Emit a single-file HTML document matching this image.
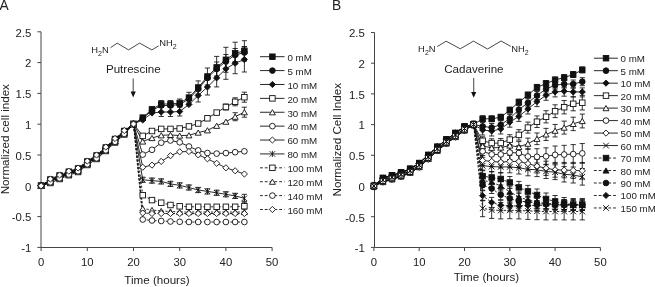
<!DOCTYPE html><html><head><meta charset="utf-8"><style>
html,body{margin:0;padding:0;background:#fff;width:655px;height:287px;overflow:hidden}
svg{display:block} #w{width:655px;height:287px;filter:grayscale(1)} text{font-family:"Liberation Sans", sans-serif;fill:#222}
</style></head><body>
<div id="w">
<svg width="655" height="287" viewBox="0 0 655 287">
<rect width="655" height="287" fill="#fff"/>
<text x="-0.4" y="9.6" font-size="13.8" text-anchor="start" >A</text>
<text x="332.0" y="9.7" font-size="13.8" text-anchor="start" >B</text>
<path d="M41,31.80L41,247.5M41,247.5L272.10,247.5" fill="none" stroke="#444" stroke-width="1"/>
<path d="M37.4,31.80L41,31.80" stroke="#444" stroke-width="1"/>
<text x="31.4" y="36.6" font-size="11.4" text-anchor="end" >2.5</text>
<path d="M37.4,62.60L41,62.60" stroke="#444" stroke-width="1"/>
<text x="31.4" y="67.4" font-size="11.4" text-anchor="end" >2</text>
<path d="M37.4,93.40L41,93.40" stroke="#444" stroke-width="1"/>
<text x="31.4" y="98.2" font-size="11.4" text-anchor="end" >1.5</text>
<path d="M37.4,124.20L41,124.20" stroke="#444" stroke-width="1"/>
<text x="31.4" y="129.0" font-size="11.4" text-anchor="end" >1</text>
<path d="M37.4,155.00L41,155.00" stroke="#444" stroke-width="1"/>
<text x="31.4" y="159.8" font-size="11.4" text-anchor="end" >0.5</text>
<path d="M37.4,185.80L41,185.80" stroke="#444" stroke-width="1"/>
<text x="31.4" y="190.6" font-size="11.4" text-anchor="end" >0</text>
<path d="M37.4,216.60L41,216.60" stroke="#444" stroke-width="1"/>
<text x="31.4" y="221.4" font-size="11.4" text-anchor="end" >-0.5</text>
<path d="M37.4,247.40L41,247.40" stroke="#444" stroke-width="1"/>
<text x="31.4" y="252.2" font-size="11.4" text-anchor="end" >-1</text>
<path d="M41.10,247.5L41.10,251" stroke="#444" stroke-width="1"/>
<text x="41.1" y="265.6" font-size="11.3" text-anchor="middle" >0</text>
<path d="M87.30,247.5L87.30,251" stroke="#444" stroke-width="1"/>
<text x="87.3" y="265.6" font-size="11.3" text-anchor="middle" >10</text>
<path d="M133.50,247.5L133.50,251" stroke="#444" stroke-width="1"/>
<text x="133.5" y="265.6" font-size="11.3" text-anchor="middle" >20</text>
<path d="M179.70,247.5L179.70,251" stroke="#444" stroke-width="1"/>
<text x="179.7" y="265.6" font-size="11.3" text-anchor="middle" >30</text>
<path d="M225.90,247.5L225.90,251" stroke="#444" stroke-width="1"/>
<text x="225.9" y="265.6" font-size="11.3" text-anchor="middle" >40</text>
<path d="M272.10,247.5L272.10,251" stroke="#444" stroke-width="1"/>
<text x="272.1" y="265.6" font-size="11.3" text-anchor="middle" >50</text>
<text x="157" y="284.3" font-size="11.6" text-anchor="middle" >Time (hours)</text>
<text font-size="11.6" text-anchor="middle" transform="translate(9,139.2) rotate(-90)">Normalized cell index</text>
<path d="M374.5,32.50L374.5,247.5M374.5,247.5L600.40,247.5" fill="none" stroke="#444" stroke-width="1"/>
<path d="M371,32.50L374.5,32.50" stroke="#444" stroke-width="1"/>
<text x="364.8" y="37.3" font-size="11.4" text-anchor="end" >2.5</text>
<path d="M371,63.20L374.5,63.20" stroke="#444" stroke-width="1"/>
<text x="364.8" y="68.0" font-size="11.4" text-anchor="end" >2</text>
<path d="M371,93.90L374.5,93.90" stroke="#444" stroke-width="1"/>
<text x="364.8" y="98.7" font-size="11.4" text-anchor="end" >1.5</text>
<path d="M371,124.60L374.5,124.60" stroke="#444" stroke-width="1"/>
<text x="364.8" y="129.4" font-size="11.4" text-anchor="end" >1</text>
<path d="M371,155.30L374.5,155.30" stroke="#444" stroke-width="1"/>
<text x="364.8" y="160.1" font-size="11.4" text-anchor="end" >0.5</text>
<path d="M371,186.00L374.5,186.00" stroke="#444" stroke-width="1"/>
<text x="364.8" y="190.8" font-size="11.4" text-anchor="end" >0</text>
<path d="M371,216.70L374.5,216.70" stroke="#444" stroke-width="1"/>
<text x="364.8" y="221.5" font-size="11.4" text-anchor="end" >-0.5</text>
<path d="M371,247.40L374.5,247.40" stroke="#444" stroke-width="1"/>
<text x="364.8" y="252.2" font-size="11.4" text-anchor="end" >-1</text>
<path d="M373.90,247.5L373.90,251" stroke="#444" stroke-width="1"/>
<text x="373.9" y="265.6" font-size="11.3" text-anchor="middle" >0</text>
<path d="M419.20,247.5L419.20,251" stroke="#444" stroke-width="1"/>
<text x="419.2" y="265.6" font-size="11.3" text-anchor="middle" >10</text>
<path d="M464.50,247.5L464.50,251" stroke="#444" stroke-width="1"/>
<text x="464.5" y="265.6" font-size="11.3" text-anchor="middle" >20</text>
<path d="M509.80,247.5L509.80,251" stroke="#444" stroke-width="1"/>
<text x="509.8" y="265.6" font-size="11.3" text-anchor="middle" >30</text>
<path d="M555.10,247.5L555.10,251" stroke="#444" stroke-width="1"/>
<text x="555.1" y="265.6" font-size="11.3" text-anchor="middle" >40</text>
<path d="M600.40,247.5L600.40,251" stroke="#444" stroke-width="1"/>
<text x="600.4" y="265.6" font-size="11.3" text-anchor="middle" >50</text>
<text x="486.5" y="281.3" font-size="11.6" text-anchor="middle" >Time (hours)</text>
<text font-size="11.6" text-anchor="middle" transform="translate(340.6,139.7) rotate(-90)">Normalized Cell Index</text>
<text x="91.3" y="53.3" font-size="9.4">H<tspan font-size="7" dy="2.3">2</tspan><tspan dy="-2.3">N</tspan></text>
<path d="M110.5,47.7L117.2,43.1L128.5,49.9L139.6,43.1L151.8,49.9L158.6,45.9" fill="none" stroke="#333" stroke-width="0.9"/>
<text x="159.3" y="46.4" font-size="9.4">NH<tspan font-size="7" dy="2.3">2</tspan></text>
<text x="418.1" y="52.4" font-size="9.4">H<tspan font-size="7" dy="2.3">2</tspan><tspan dy="-2.3">N</tspan></text>
<path d="M437.2,46.6L446.1,41.2L460.3,48.8L473.5,41.1L487.5,49L501.1,41L510.8,46.4" fill="none" stroke="#333" stroke-width="0.9"/>
<text x="511.2" y="52.4" font-size="9.4">NH<tspan font-size="7" dy="2.3">2</tspan></text>
<text x="133.3" y="72.7" font-size="11.6" text-anchor="middle" >Putrescine</text>
<text x="473.9" y="72.7" font-size="11.6" text-anchor="middle" >Cadaverine</text>
<path d="M133.2,78.4L133.2,92.4" stroke="#555" stroke-width="1.1"/><path d="M130.6,91.60000000000001L135.79999999999998,91.60000000000001L133.2,97.4Z" fill="#111"/>
<path d="M473.7,78.1L473.7,92.7" stroke="#555" stroke-width="1.1"/><path d="M471.09999999999997,91.9L476.3,91.9L473.7,97.7Z" fill="#111"/>
<path d="M41.10,185.80L50.34,179.50L59.58,175.50L68.82,171.70L78.06,168.50L87.30,161.50L96.54,155.50L105.78,147.50L115.02,139.00L124.26,131.00L133.50,124.00L142.74,117.60L151.98,109.30L161.22,104.00L170.46,104.00L179.70,103.00L188.94,97.60L198.18,87.50L207.42,76.50L216.66,67.40L225.90,59.80L235.14,53.20L244.38,50.90" fill="none" stroke="#111" stroke-width="0.9"/>
<path d="M41.10,185.80L50.34,180.00L59.58,176.00L68.82,172.20L78.06,169.00L87.30,162.00L96.54,156.00L105.78,148.00L115.02,139.50L124.26,131.50L133.50,124.00L142.74,118.50L151.98,110.50L161.22,105.50L170.46,105.50L179.70,104.50L188.94,99.00L198.18,89.00L207.42,78.00L216.66,69.00L225.90,61.50L235.14,55.00L244.38,52.50" fill="none" stroke="#111" stroke-width="0.9"/>
<path d="M41.10,185.80L50.34,180.50L59.58,176.50L68.82,172.70L78.06,169.50L87.30,162.50L96.54,156.50L105.78,148.50L115.02,140.00L124.26,132.00L133.50,124.00L142.74,120.00L151.98,113.00L161.22,112.00L170.46,112.00L179.70,111.50L188.94,104.50L198.18,95.50L207.42,87.00L216.66,77.90L225.90,68.80L235.14,63.20L244.38,59.50" fill="none" stroke="#111" stroke-width="0.9"/>
<path d="M41.10,185.80L50.34,183.00L59.58,179.00L68.82,175.20L78.06,172.00L87.30,165.00L96.54,159.00L105.78,151.00L115.02,142.50L124.26,134.50L133.50,124.00L142.74,135.90L151.98,131.00L161.22,128.90L170.46,128.90L179.70,128.50L188.94,126.40L198.18,123.50L207.42,118.30L216.66,112.60L225.90,107.00L235.14,101.80L244.38,97.20" fill="none" stroke="#111" stroke-width="0.9"/>
<path d="M41.10,185.80L50.34,181.50L59.58,177.50L68.82,173.70L78.06,170.50L87.30,163.50L96.54,157.50L105.78,149.50L115.02,141.00L124.26,133.00L133.50,124.00L142.74,141.50L151.98,138.00L161.22,135.30L170.46,134.90L179.70,135.60L188.94,135.30L198.18,132.60L207.42,130.30L216.66,125.80L225.90,121.70L235.14,116.70L244.38,112.20" fill="none" stroke="#111" stroke-width="0.9"/>
<path d="M41.10,185.80L50.34,181.00L59.58,177.00L68.82,173.20L78.06,170.00L87.30,163.00L96.54,157.00L105.78,149.00L115.02,140.50L124.26,132.50L133.50,124.00L142.74,154.60L151.98,149.80L161.22,142.70L170.46,140.50L179.70,142.30L188.94,146.50L198.18,150.40L207.42,153.00L216.66,153.60L225.90,153.10L235.14,152.20L244.38,151.30" fill="none" stroke="#111" stroke-width="0.9"/>
<path d="M41.10,185.80L50.34,180.50L59.58,176.50L68.82,172.70L78.06,169.50L87.30,162.50L96.54,156.50L105.78,148.50L115.02,140.00L124.26,132.00L133.50,124.00L142.74,167.20L151.98,165.10L161.22,161.40L170.46,155.70L179.70,151.80L188.94,151.50L198.18,154.90L207.42,158.80L216.66,163.30L225.90,167.80L235.14,170.80L244.38,174.00" fill="none" stroke="#111" stroke-width="0.9"/>
<path d="M41.10,185.80L50.34,181.00L59.58,177.00L68.82,173.20L78.06,170.00L87.30,163.00L96.54,157.00L105.78,149.00L115.02,140.50L124.26,132.50L133.50,124.00L142.74,179.80L151.98,180.60L161.22,181.40L170.46,183.90L179.70,185.40L188.94,187.50L198.18,190.00L207.42,191.40L216.66,192.80L225.90,194.30L235.14,195.90L244.38,198.30" fill="none" stroke="#111" stroke-width="0.9"/>
<path d="M41.10,185.80L50.34,182.00L59.58,178.00L68.82,174.20L78.06,171.00L87.30,164.00L96.54,158.00L105.78,150.00L115.02,141.50L124.26,133.50L133.50,124.00L142.74,195.20L151.98,200.10L161.22,202.70L170.46,205.00L179.70,206.30L188.94,206.80L198.18,206.80L207.42,206.80L216.66,206.80L225.90,206.80L235.14,206.80L244.38,206.20" fill="none" stroke="#111" stroke-width="0.9" stroke-dasharray="2.2,1.6"/>
<path d="M41.10,185.80L50.34,181.50L59.58,177.50L68.82,173.70L78.06,170.50L87.30,163.50L96.54,157.50L105.78,149.50L115.02,141.00L124.26,133.00L133.50,124.00L142.74,208.50L151.98,210.00L161.22,211.00L170.46,211.50L179.70,212.00L188.94,212.00L198.18,212.00L207.42,212.00L216.66,212.00L225.90,212.00L235.14,212.00L244.38,212.00" fill="none" stroke="#111" stroke-width="0.9" stroke-dasharray="2.2,1.6"/>
<path d="M41.10,185.80L50.34,182.30L59.58,178.30L68.82,174.50L78.06,171.30L87.30,164.30L96.54,158.30L105.78,150.30L115.02,141.80L124.26,133.80L133.50,124.00L142.74,219.50L151.98,220.50L161.22,221.00L170.46,221.50L179.70,221.80L188.94,222.00L198.18,222.00L207.42,222.00L216.66,222.00L225.90,222.00L235.14,222.00L244.38,222.00" fill="none" stroke="#111" stroke-width="0.9" stroke-dasharray="2.2,1.6"/>
<path d="M41.10,185.80L50.34,179.00L59.58,175.00L68.82,171.20L78.06,168.00L87.30,161.00L96.54,155.00L105.78,147.00L115.02,138.50L124.26,130.50L133.50,124.00L142.74,213.00L151.98,213.50L161.22,213.50L170.46,213.50L179.70,213.50L188.94,213.50L198.18,213.50L207.42,213.50L216.66,213.50L225.90,213.50L235.14,213.50L244.38,213.50" fill="none" stroke="#111" stroke-width="0.9" stroke-dasharray="2.2,1.6"/>
<path d="M161.22,100.50L161.22,107.50M158.62,100.50L163.82,100.50M158.62,107.50L163.82,107.50" fill="none" stroke="#111" stroke-width="0.85"/>
<path d="M170.46,100.50L170.46,107.50M167.86,100.50L173.06,100.50M167.86,107.50L173.06,107.50" fill="none" stroke="#111" stroke-width="0.85"/>
<path d="M179.70,99.00L179.70,107.00M177.10,99.00L182.30,99.00M177.10,107.00L182.30,107.00" fill="none" stroke="#111" stroke-width="0.85"/>
<path d="M188.94,92.30L188.94,102.90M186.34,92.30L191.54,92.30M186.34,102.90L191.54,102.90" fill="none" stroke="#111" stroke-width="0.85"/>
<path d="M198.18,80.90L198.18,94.10M195.58,80.90L200.78,80.90M195.58,94.10L200.78,94.10" fill="none" stroke="#111" stroke-width="0.85"/>
<path d="M207.42,68.00L207.42,85.00M204.82,68.00L210.02,68.00M204.82,85.00L210.02,85.00" fill="none" stroke="#111" stroke-width="0.85"/>
<path d="M216.66,56.40L216.66,78.40M214.06,56.40L219.26,56.40M214.06,78.40L219.26,78.40" fill="none" stroke="#111" stroke-width="0.85"/>
<path d="M225.90,47.30L225.90,72.30M223.30,47.30L228.50,47.30M223.30,72.30L228.50,72.30" fill="none" stroke="#111" stroke-width="0.85"/>
<path d="M235.14,42.20L235.14,64.20M232.54,42.20L237.74,42.20M232.54,64.20L237.74,64.20" fill="none" stroke="#111" stroke-width="0.85"/>
<path d="M244.38,40.70L244.38,61.10M241.78,40.70L246.98,40.70M241.78,61.10L246.98,61.10" fill="none" stroke="#111" stroke-width="0.85"/>
<path d="M216.66,62.00L216.66,76.00M214.06,62.00L219.26,62.00M214.06,76.00L219.26,76.00" fill="none" stroke="#111" stroke-width="0.85"/>
<path d="M225.90,54.50L225.90,68.50M223.30,54.50L228.50,54.50M223.30,68.50L228.50,68.50" fill="none" stroke="#111" stroke-width="0.85"/>
<path d="M235.14,48.50L235.14,61.50M232.54,48.50L237.74,48.50M232.54,61.50L237.74,61.50" fill="none" stroke="#111" stroke-width="0.85"/>
<path d="M244.38,46.50L244.38,58.50M241.78,46.50L246.98,46.50M241.78,58.50L246.98,58.50" fill="none" stroke="#111" stroke-width="0.85"/>
<path d="M161.22,107.50L161.22,116.50M158.62,107.50L163.82,107.50M158.62,116.50L163.82,116.50" fill="none" stroke="#111" stroke-width="0.85"/>
<path d="M170.46,107.50L170.46,116.50M167.86,107.50L173.06,107.50M167.86,116.50L173.06,116.50" fill="none" stroke="#111" stroke-width="0.85"/>
<path d="M179.70,107.00L179.70,116.00M177.10,107.00L182.30,107.00M177.10,116.00L182.30,116.00" fill="none" stroke="#111" stroke-width="0.85"/>
<path d="M198.18,89.00L198.18,102.00M195.58,89.00L200.78,89.00M195.58,102.00L200.78,102.00" fill="none" stroke="#111" stroke-width="0.85"/>
<path d="M207.42,79.00L207.42,95.00M204.82,79.00L210.02,79.00M204.82,95.00L210.02,95.00" fill="none" stroke="#111" stroke-width="0.85"/>
<path d="M216.66,68.90L216.66,86.90M214.06,68.90L219.26,68.90M214.06,86.90L219.26,86.90" fill="none" stroke="#111" stroke-width="0.85"/>
<path d="M225.90,58.30L225.90,79.30M223.30,58.30L228.50,58.30M223.30,79.30L228.50,79.30" fill="none" stroke="#111" stroke-width="0.85"/>
<path d="M235.14,52.70L235.14,73.70M232.54,52.70L237.74,52.70M232.54,73.70L237.74,73.70" fill="none" stroke="#111" stroke-width="0.85"/>
<path d="M244.38,47.00L244.38,72.00M241.78,47.00L246.98,47.00M241.78,72.00L246.98,72.00" fill="none" stroke="#111" stroke-width="0.85"/>
<path d="M225.90,104.00L225.90,110.00M223.30,104.00L228.50,104.00M223.30,110.00L228.50,110.00" fill="none" stroke="#111" stroke-width="0.85"/>
<path d="M235.14,97.80L235.14,105.80M232.54,97.80L237.74,97.80M232.54,105.80L237.74,105.80" fill="none" stroke="#111" stroke-width="0.85"/>
<path d="M244.38,92.20L244.38,102.20M241.78,92.20L246.98,92.20M241.78,102.20L246.98,102.20" fill="none" stroke="#111" stroke-width="0.85"/>
<path d="M235.14,112.70L235.14,120.70M232.54,112.70L237.74,112.70M232.54,120.70L237.74,120.70" fill="none" stroke="#111" stroke-width="0.85"/>
<path d="M244.38,107.20L244.38,117.20M241.78,107.20L246.98,107.20M241.78,117.20L246.98,117.20" fill="none" stroke="#111" stroke-width="0.85"/>
<path d="M142.74,177.20L142.74,182.40M140.14,177.20L145.34,177.20M140.14,182.40L145.34,182.40" fill="none" stroke="#111" stroke-width="0.85"/>
<path d="M151.98,178.00L151.98,183.20M149.38,178.00L154.58,178.00M149.38,183.20L154.58,183.20" fill="none" stroke="#111" stroke-width="0.85"/>
<path d="M161.22,178.80L161.22,184.00M158.62,178.80L163.82,178.80M158.62,184.00L163.82,184.00" fill="none" stroke="#111" stroke-width="0.85"/>
<path d="M170.46,181.30L170.46,186.50M167.86,181.30L173.06,181.30M167.86,186.50L173.06,186.50" fill="none" stroke="#111" stroke-width="0.85"/>
<path d="M179.70,182.80L179.70,188.00M177.10,182.80L182.30,182.80M177.10,188.00L182.30,188.00" fill="none" stroke="#111" stroke-width="0.85"/>
<path d="M188.94,184.90L188.94,190.10M186.34,184.90L191.54,184.90M186.34,190.10L191.54,190.10" fill="none" stroke="#111" stroke-width="0.85"/>
<path d="M198.18,187.40L198.18,192.60M195.58,187.40L200.78,187.40M195.58,192.60L200.78,192.60" fill="none" stroke="#111" stroke-width="0.85"/>
<path d="M207.42,188.80L207.42,194.00M204.82,188.80L210.02,188.80M204.82,194.00L210.02,194.00" fill="none" stroke="#111" stroke-width="0.85"/>
<path d="M216.66,190.20L216.66,195.40M214.06,190.20L219.26,190.20M214.06,195.40L219.26,195.40" fill="none" stroke="#111" stroke-width="0.85"/>
<path d="M225.90,191.70L225.90,196.90M223.30,191.70L228.50,191.70M223.30,196.90L228.50,196.90" fill="none" stroke="#111" stroke-width="0.85"/>
<path d="M235.14,193.30L235.14,198.50M232.54,193.30L237.74,193.30M232.54,198.50L237.74,198.50" fill="none" stroke="#111" stroke-width="0.85"/>
<path d="M244.38,194.30L244.38,201.30M241.78,194.30L246.98,194.30M241.78,201.30L246.98,201.30" fill="none" stroke="#111" stroke-width="0.85"/>
<path d="M244.38,202.20L244.38,209.20M241.78,202.20L246.98,202.20M241.78,209.20L246.98,209.20" fill="none" stroke="#111" stroke-width="0.85"/>
<rect x="38.35" y="183.05" width="5.50" height="5.50" fill="#111" stroke="#111" stroke-width="0.9"/>
<rect x="47.59" y="176.75" width="5.50" height="5.50" fill="#111" stroke="#111" stroke-width="0.9"/>
<rect x="56.83" y="172.75" width="5.50" height="5.50" fill="#111" stroke="#111" stroke-width="0.9"/>
<rect x="66.07" y="168.95" width="5.50" height="5.50" fill="#111" stroke="#111" stroke-width="0.9"/>
<rect x="75.31" y="165.75" width="5.50" height="5.50" fill="#111" stroke="#111" stroke-width="0.9"/>
<rect x="84.55" y="158.75" width="5.50" height="5.50" fill="#111" stroke="#111" stroke-width="0.9"/>
<rect x="93.79" y="152.75" width="5.50" height="5.50" fill="#111" stroke="#111" stroke-width="0.9"/>
<rect x="103.03" y="144.75" width="5.50" height="5.50" fill="#111" stroke="#111" stroke-width="0.9"/>
<rect x="112.27" y="136.25" width="5.50" height="5.50" fill="#111" stroke="#111" stroke-width="0.9"/>
<rect x="121.51" y="128.25" width="5.50" height="5.50" fill="#111" stroke="#111" stroke-width="0.9"/>
<rect x="130.75" y="121.25" width="5.50" height="5.50" fill="#111" stroke="#111" stroke-width="0.9"/>
<circle cx="41.10" cy="185.80" r="2.85" fill="#111" stroke="#111" stroke-width="0.9"/>
<circle cx="50.34" cy="180.00" r="2.85" fill="#111" stroke="#111" stroke-width="0.9"/>
<circle cx="59.58" cy="176.00" r="2.85" fill="#111" stroke="#111" stroke-width="0.9"/>
<circle cx="68.82" cy="172.20" r="2.85" fill="#111" stroke="#111" stroke-width="0.9"/>
<circle cx="78.06" cy="169.00" r="2.85" fill="#111" stroke="#111" stroke-width="0.9"/>
<circle cx="87.30" cy="162.00" r="2.85" fill="#111" stroke="#111" stroke-width="0.9"/>
<circle cx="96.54" cy="156.00" r="2.85" fill="#111" stroke="#111" stroke-width="0.9"/>
<circle cx="105.78" cy="148.00" r="2.85" fill="#111" stroke="#111" stroke-width="0.9"/>
<circle cx="115.02" cy="139.50" r="2.85" fill="#111" stroke="#111" stroke-width="0.9"/>
<circle cx="124.26" cy="131.50" r="2.85" fill="#111" stroke="#111" stroke-width="0.9"/>
<circle cx="133.50" cy="124.00" r="2.85" fill="#111" stroke="#111" stroke-width="0.9"/>
<path d="M41.10,182.70L44.20,185.80L41.10,188.90L38.00,185.80Z" fill="#111" stroke="#111" stroke-width="0.9"/>
<path d="M50.34,177.40L53.44,180.50L50.34,183.60L47.24,180.50Z" fill="#111" stroke="#111" stroke-width="0.9"/>
<path d="M59.58,173.40L62.68,176.50L59.58,179.60L56.48,176.50Z" fill="#111" stroke="#111" stroke-width="0.9"/>
<path d="M68.82,169.60L71.92,172.70L68.82,175.80L65.72,172.70Z" fill="#111" stroke="#111" stroke-width="0.9"/>
<path d="M78.06,166.40L81.16,169.50L78.06,172.60L74.96,169.50Z" fill="#111" stroke="#111" stroke-width="0.9"/>
<path d="M87.30,159.40L90.40,162.50L87.30,165.60L84.20,162.50Z" fill="#111" stroke="#111" stroke-width="0.9"/>
<path d="M96.54,153.40L99.64,156.50L96.54,159.60L93.44,156.50Z" fill="#111" stroke="#111" stroke-width="0.9"/>
<path d="M105.78,145.40L108.88,148.50L105.78,151.60L102.68,148.50Z" fill="#111" stroke="#111" stroke-width="0.9"/>
<path d="M115.02,136.90L118.12,140.00L115.02,143.10L111.92,140.00Z" fill="#111" stroke="#111" stroke-width="0.9"/>
<path d="M124.26,128.90L127.36,132.00L124.26,135.10L121.16,132.00Z" fill="#111" stroke="#111" stroke-width="0.9"/>
<path d="M133.50,120.90L136.60,124.00L133.50,127.10L130.40,124.00Z" fill="#111" stroke="#111" stroke-width="0.9"/>
<rect x="38.35" y="183.05" width="5.50" height="5.50" fill="#fff" stroke="#111" stroke-width="0.9"/>
<rect x="47.59" y="180.25" width="5.50" height="5.50" fill="#fff" stroke="#111" stroke-width="0.9"/>
<rect x="56.83" y="176.25" width="5.50" height="5.50" fill="#fff" stroke="#111" stroke-width="0.9"/>
<rect x="66.07" y="172.45" width="5.50" height="5.50" fill="#fff" stroke="#111" stroke-width="0.9"/>
<rect x="75.31" y="169.25" width="5.50" height="5.50" fill="#fff" stroke="#111" stroke-width="0.9"/>
<rect x="84.55" y="162.25" width="5.50" height="5.50" fill="#fff" stroke="#111" stroke-width="0.9"/>
<rect x="93.79" y="156.25" width="5.50" height="5.50" fill="#fff" stroke="#111" stroke-width="0.9"/>
<rect x="103.03" y="148.25" width="5.50" height="5.50" fill="#fff" stroke="#111" stroke-width="0.9"/>
<rect x="112.27" y="139.75" width="5.50" height="5.50" fill="#fff" stroke="#111" stroke-width="0.9"/>
<rect x="121.51" y="131.75" width="5.50" height="5.50" fill="#fff" stroke="#111" stroke-width="0.9"/>
<rect x="130.75" y="121.25" width="5.50" height="5.50" fill="#fff" stroke="#111" stroke-width="0.9"/>
<path d="M41.10,183.20L44.10,188.40L38.10,188.40Z" fill="#fff" stroke="#111" stroke-width="0.9"/>
<path d="M50.34,178.90L53.34,184.10L47.34,184.10Z" fill="#fff" stroke="#111" stroke-width="0.9"/>
<path d="M59.58,174.90L62.58,180.10L56.58,180.10Z" fill="#fff" stroke="#111" stroke-width="0.9"/>
<path d="M68.82,171.10L71.82,176.30L65.82,176.30Z" fill="#fff" stroke="#111" stroke-width="0.9"/>
<path d="M78.06,167.90L81.06,173.10L75.06,173.10Z" fill="#fff" stroke="#111" stroke-width="0.9"/>
<path d="M87.30,160.90L90.30,166.10L84.30,166.10Z" fill="#fff" stroke="#111" stroke-width="0.9"/>
<path d="M96.54,154.90L99.54,160.10L93.54,160.10Z" fill="#fff" stroke="#111" stroke-width="0.9"/>
<path d="M105.78,146.90L108.78,152.10L102.78,152.10Z" fill="#fff" stroke="#111" stroke-width="0.9"/>
<path d="M115.02,138.40L118.02,143.60L112.02,143.60Z" fill="#fff" stroke="#111" stroke-width="0.9"/>
<path d="M124.26,130.40L127.26,135.60L121.26,135.60Z" fill="#fff" stroke="#111" stroke-width="0.9"/>
<path d="M133.50,121.40L136.50,126.60L130.50,126.60Z" fill="#fff" stroke="#111" stroke-width="0.9"/>
<circle cx="41.10" cy="185.80" r="2.85" fill="#fff" stroke="#111" stroke-width="0.9"/>
<circle cx="50.34" cy="181.00" r="2.85" fill="#fff" stroke="#111" stroke-width="0.9"/>
<circle cx="59.58" cy="177.00" r="2.85" fill="#fff" stroke="#111" stroke-width="0.9"/>
<circle cx="68.82" cy="173.20" r="2.85" fill="#fff" stroke="#111" stroke-width="0.9"/>
<circle cx="78.06" cy="170.00" r="2.85" fill="#fff" stroke="#111" stroke-width="0.9"/>
<circle cx="87.30" cy="163.00" r="2.85" fill="#fff" stroke="#111" stroke-width="0.9"/>
<circle cx="96.54" cy="157.00" r="2.85" fill="#fff" stroke="#111" stroke-width="0.9"/>
<circle cx="105.78" cy="149.00" r="2.85" fill="#fff" stroke="#111" stroke-width="0.9"/>
<circle cx="115.02" cy="140.50" r="2.85" fill="#fff" stroke="#111" stroke-width="0.9"/>
<circle cx="124.26" cy="132.50" r="2.85" fill="#fff" stroke="#111" stroke-width="0.9"/>
<circle cx="133.50" cy="124.00" r="2.85" fill="#fff" stroke="#111" stroke-width="0.9"/>
<path d="M41.10,182.70L44.20,185.80L41.10,188.90L38.00,185.80Z" fill="#fff" stroke="#111" stroke-width="0.9"/>
<path d="M50.34,177.40L53.44,180.50L50.34,183.60L47.24,180.50Z" fill="#fff" stroke="#111" stroke-width="0.9"/>
<path d="M59.58,173.40L62.68,176.50L59.58,179.60L56.48,176.50Z" fill="#fff" stroke="#111" stroke-width="0.9"/>
<path d="M68.82,169.60L71.92,172.70L68.82,175.80L65.72,172.70Z" fill="#fff" stroke="#111" stroke-width="0.9"/>
<path d="M78.06,166.40L81.16,169.50L78.06,172.60L74.96,169.50Z" fill="#fff" stroke="#111" stroke-width="0.9"/>
<path d="M87.30,159.40L90.40,162.50L87.30,165.60L84.20,162.50Z" fill="#fff" stroke="#111" stroke-width="0.9"/>
<path d="M96.54,153.40L99.64,156.50L96.54,159.60L93.44,156.50Z" fill="#fff" stroke="#111" stroke-width="0.9"/>
<path d="M105.78,145.40L108.88,148.50L105.78,151.60L102.68,148.50Z" fill="#fff" stroke="#111" stroke-width="0.9"/>
<path d="M115.02,136.90L118.12,140.00L115.02,143.10L111.92,140.00Z" fill="#fff" stroke="#111" stroke-width="0.9"/>
<path d="M124.26,128.90L127.36,132.00L124.26,135.10L121.16,132.00Z" fill="#fff" stroke="#111" stroke-width="0.9"/>
<path d="M133.50,120.90L136.60,124.00L133.50,127.10L130.40,124.00Z" fill="#fff" stroke="#111" stroke-width="0.9"/>
<path d="M38.30,183.00L43.90,188.60M43.90,183.00L38.30,188.60M41.10,182.70L41.10,188.90" fill="none" stroke="#111" stroke-width="0.85"/>
<path d="M47.54,178.20L53.14,183.80M53.14,178.20L47.54,183.80M50.34,177.90L50.34,184.10" fill="none" stroke="#111" stroke-width="0.85"/>
<path d="M56.78,174.20L62.38,179.80M62.38,174.20L56.78,179.80M59.58,173.90L59.58,180.10" fill="none" stroke="#111" stroke-width="0.85"/>
<path d="M66.02,170.40L71.62,176.00M71.62,170.40L66.02,176.00M68.82,170.10L68.82,176.30" fill="none" stroke="#111" stroke-width="0.85"/>
<path d="M75.26,167.20L80.86,172.80M80.86,167.20L75.26,172.80M78.06,166.90L78.06,173.10" fill="none" stroke="#111" stroke-width="0.85"/>
<path d="M84.50,160.20L90.10,165.80M90.10,160.20L84.50,165.80M87.30,159.90L87.30,166.10" fill="none" stroke="#111" stroke-width="0.85"/>
<path d="M93.74,154.20L99.34,159.80M99.34,154.20L93.74,159.80M96.54,153.90L96.54,160.10" fill="none" stroke="#111" stroke-width="0.85"/>
<path d="M102.98,146.20L108.58,151.80M108.58,146.20L102.98,151.80M105.78,145.90L105.78,152.10" fill="none" stroke="#111" stroke-width="0.85"/>
<path d="M112.22,137.70L117.82,143.30M117.82,137.70L112.22,143.30M115.02,137.40L115.02,143.60" fill="none" stroke="#111" stroke-width="0.85"/>
<path d="M121.46,129.70L127.06,135.30M127.06,129.70L121.46,135.30M124.26,129.40L124.26,135.60" fill="none" stroke="#111" stroke-width="0.85"/>
<path d="M130.70,121.20L136.30,126.80M136.30,121.20L130.70,126.80M133.50,120.90L133.50,127.10" fill="none" stroke="#111" stroke-width="0.85"/>
<rect x="38.35" y="183.05" width="5.50" height="5.50" fill="#fff" stroke="#111" stroke-width="0.9"/>
<rect x="47.59" y="179.25" width="5.50" height="5.50" fill="#fff" stroke="#111" stroke-width="0.9"/>
<rect x="56.83" y="175.25" width="5.50" height="5.50" fill="#fff" stroke="#111" stroke-width="0.9"/>
<rect x="66.07" y="171.45" width="5.50" height="5.50" fill="#fff" stroke="#111" stroke-width="0.9"/>
<rect x="75.31" y="168.25" width="5.50" height="5.50" fill="#fff" stroke="#111" stroke-width="0.9"/>
<rect x="84.55" y="161.25" width="5.50" height="5.50" fill="#fff" stroke="#111" stroke-width="0.9"/>
<rect x="93.79" y="155.25" width="5.50" height="5.50" fill="#fff" stroke="#111" stroke-width="0.9"/>
<rect x="103.03" y="147.25" width="5.50" height="5.50" fill="#fff" stroke="#111" stroke-width="0.9"/>
<rect x="112.27" y="138.75" width="5.50" height="5.50" fill="#fff" stroke="#111" stroke-width="0.9"/>
<rect x="121.51" y="130.75" width="5.50" height="5.50" fill="#fff" stroke="#111" stroke-width="0.9"/>
<rect x="130.75" y="121.25" width="5.50" height="5.50" fill="#fff" stroke="#111" stroke-width="0.9"/>
<path d="M41.10,183.20L44.10,188.40L38.10,188.40Z" fill="#fff" stroke="#111" stroke-width="0.9"/>
<path d="M50.34,178.90L53.34,184.10L47.34,184.10Z" fill="#fff" stroke="#111" stroke-width="0.9"/>
<path d="M59.58,174.90L62.58,180.10L56.58,180.10Z" fill="#fff" stroke="#111" stroke-width="0.9"/>
<path d="M68.82,171.10L71.82,176.30L65.82,176.30Z" fill="#fff" stroke="#111" stroke-width="0.9"/>
<path d="M78.06,167.90L81.06,173.10L75.06,173.10Z" fill="#fff" stroke="#111" stroke-width="0.9"/>
<path d="M87.30,160.90L90.30,166.10L84.30,166.10Z" fill="#fff" stroke="#111" stroke-width="0.9"/>
<path d="M96.54,154.90L99.54,160.10L93.54,160.10Z" fill="#fff" stroke="#111" stroke-width="0.9"/>
<path d="M105.78,146.90L108.78,152.10L102.78,152.10Z" fill="#fff" stroke="#111" stroke-width="0.9"/>
<path d="M115.02,138.40L118.02,143.60L112.02,143.60Z" fill="#fff" stroke="#111" stroke-width="0.9"/>
<path d="M124.26,130.40L127.26,135.60L121.26,135.60Z" fill="#fff" stroke="#111" stroke-width="0.9"/>
<path d="M133.50,121.40L136.50,126.60L130.50,126.60Z" fill="#fff" stroke="#111" stroke-width="0.9"/>
<circle cx="41.10" cy="185.80" r="2.85" fill="#fff" stroke="#111" stroke-width="0.9"/>
<circle cx="50.34" cy="182.30" r="2.85" fill="#fff" stroke="#111" stroke-width="0.9"/>
<circle cx="59.58" cy="178.30" r="2.85" fill="#fff" stroke="#111" stroke-width="0.9"/>
<circle cx="68.82" cy="174.50" r="2.85" fill="#fff" stroke="#111" stroke-width="0.9"/>
<circle cx="78.06" cy="171.30" r="2.85" fill="#fff" stroke="#111" stroke-width="0.9"/>
<circle cx="87.30" cy="164.30" r="2.85" fill="#fff" stroke="#111" stroke-width="0.9"/>
<circle cx="96.54" cy="158.30" r="2.85" fill="#fff" stroke="#111" stroke-width="0.9"/>
<circle cx="105.78" cy="150.30" r="2.85" fill="#fff" stroke="#111" stroke-width="0.9"/>
<circle cx="115.02" cy="141.80" r="2.85" fill="#fff" stroke="#111" stroke-width="0.9"/>
<circle cx="124.26" cy="133.80" r="2.85" fill="#fff" stroke="#111" stroke-width="0.9"/>
<circle cx="133.50" cy="124.00" r="2.85" fill="#fff" stroke="#111" stroke-width="0.9"/>
<path d="M41.10,182.70L44.20,185.80L41.10,188.90L38.00,185.80Z" fill="#fff" stroke="#111" stroke-width="0.9"/>
<path d="M50.34,175.90L53.44,179.00L50.34,182.10L47.24,179.00Z" fill="#fff" stroke="#111" stroke-width="0.9"/>
<path d="M59.58,171.90L62.68,175.00L59.58,178.10L56.48,175.00Z" fill="#fff" stroke="#111" stroke-width="0.9"/>
<path d="M68.82,168.10L71.92,171.20L68.82,174.30L65.72,171.20Z" fill="#fff" stroke="#111" stroke-width="0.9"/>
<path d="M78.06,164.90L81.16,168.00L78.06,171.10L74.96,168.00Z" fill="#fff" stroke="#111" stroke-width="0.9"/>
<path d="M87.30,157.90L90.40,161.00L87.30,164.10L84.20,161.00Z" fill="#fff" stroke="#111" stroke-width="0.9"/>
<path d="M96.54,151.90L99.64,155.00L96.54,158.10L93.44,155.00Z" fill="#fff" stroke="#111" stroke-width="0.9"/>
<path d="M105.78,143.90L108.88,147.00L105.78,150.10L102.68,147.00Z" fill="#fff" stroke="#111" stroke-width="0.9"/>
<path d="M115.02,135.40L118.12,138.50L115.02,141.60L111.92,138.50Z" fill="#fff" stroke="#111" stroke-width="0.9"/>
<path d="M124.26,127.40L127.36,130.50L124.26,133.60L121.16,130.50Z" fill="#fff" stroke="#111" stroke-width="0.9"/>
<path d="M133.50,120.90L136.60,124.00L133.50,127.10L130.40,124.00Z" fill="#fff" stroke="#111" stroke-width="0.9"/>
<rect x="139.99" y="114.85" width="5.50" height="5.50" fill="#111" stroke="#111" stroke-width="0.9"/>
<rect x="149.23" y="106.55" width="5.50" height="5.50" fill="#111" stroke="#111" stroke-width="0.9"/>
<rect x="158.47" y="101.25" width="5.50" height="5.50" fill="#111" stroke="#111" stroke-width="0.9"/>
<rect x="167.71" y="101.25" width="5.50" height="5.50" fill="#111" stroke="#111" stroke-width="0.9"/>
<rect x="176.95" y="100.25" width="5.50" height="5.50" fill="#111" stroke="#111" stroke-width="0.9"/>
<rect x="186.19" y="94.85" width="5.50" height="5.50" fill="#111" stroke="#111" stroke-width="0.9"/>
<rect x="195.43" y="84.75" width="5.50" height="5.50" fill="#111" stroke="#111" stroke-width="0.9"/>
<rect x="204.67" y="73.75" width="5.50" height="5.50" fill="#111" stroke="#111" stroke-width="0.9"/>
<rect x="213.91" y="64.65" width="5.50" height="5.50" fill="#111" stroke="#111" stroke-width="0.9"/>
<rect x="223.15" y="57.05" width="5.50" height="5.50" fill="#111" stroke="#111" stroke-width="0.9"/>
<rect x="232.39" y="50.45" width="5.50" height="5.50" fill="#111" stroke="#111" stroke-width="0.9"/>
<rect x="241.63" y="48.15" width="5.50" height="5.50" fill="#111" stroke="#111" stroke-width="0.9"/>
<circle cx="142.74" cy="118.50" r="2.85" fill="#111" stroke="#111" stroke-width="0.9"/>
<circle cx="151.98" cy="110.50" r="2.85" fill="#111" stroke="#111" stroke-width="0.9"/>
<circle cx="161.22" cy="105.50" r="2.85" fill="#111" stroke="#111" stroke-width="0.9"/>
<circle cx="170.46" cy="105.50" r="2.85" fill="#111" stroke="#111" stroke-width="0.9"/>
<circle cx="179.70" cy="104.50" r="2.85" fill="#111" stroke="#111" stroke-width="0.9"/>
<circle cx="188.94" cy="99.00" r="2.85" fill="#111" stroke="#111" stroke-width="0.9"/>
<circle cx="198.18" cy="89.00" r="2.85" fill="#111" stroke="#111" stroke-width="0.9"/>
<circle cx="207.42" cy="78.00" r="2.85" fill="#111" stroke="#111" stroke-width="0.9"/>
<circle cx="216.66" cy="69.00" r="2.85" fill="#111" stroke="#111" stroke-width="0.9"/>
<circle cx="225.90" cy="61.50" r="2.85" fill="#111" stroke="#111" stroke-width="0.9"/>
<circle cx="235.14" cy="55.00" r="2.85" fill="#111" stroke="#111" stroke-width="0.9"/>
<circle cx="244.38" cy="52.50" r="2.85" fill="#111" stroke="#111" stroke-width="0.9"/>
<path d="M142.74,116.90L145.84,120.00L142.74,123.10L139.64,120.00Z" fill="#111" stroke="#111" stroke-width="0.9"/>
<path d="M151.98,109.90L155.08,113.00L151.98,116.10L148.88,113.00Z" fill="#111" stroke="#111" stroke-width="0.9"/>
<path d="M161.22,108.90L164.32,112.00L161.22,115.10L158.12,112.00Z" fill="#111" stroke="#111" stroke-width="0.9"/>
<path d="M170.46,108.90L173.56,112.00L170.46,115.10L167.36,112.00Z" fill="#111" stroke="#111" stroke-width="0.9"/>
<path d="M179.70,108.40L182.80,111.50L179.70,114.60L176.60,111.50Z" fill="#111" stroke="#111" stroke-width="0.9"/>
<path d="M188.94,101.40L192.04,104.50L188.94,107.60L185.84,104.50Z" fill="#111" stroke="#111" stroke-width="0.9"/>
<path d="M198.18,92.40L201.28,95.50L198.18,98.60L195.08,95.50Z" fill="#111" stroke="#111" stroke-width="0.9"/>
<path d="M207.42,83.90L210.52,87.00L207.42,90.10L204.32,87.00Z" fill="#111" stroke="#111" stroke-width="0.9"/>
<path d="M216.66,74.80L219.76,77.90L216.66,81.00L213.56,77.90Z" fill="#111" stroke="#111" stroke-width="0.9"/>
<path d="M225.90,65.70L229.00,68.80L225.90,71.90L222.80,68.80Z" fill="#111" stroke="#111" stroke-width="0.9"/>
<path d="M235.14,60.10L238.24,63.20L235.14,66.30L232.04,63.20Z" fill="#111" stroke="#111" stroke-width="0.9"/>
<path d="M244.38,56.40L247.48,59.50L244.38,62.60L241.28,59.50Z" fill="#111" stroke="#111" stroke-width="0.9"/>
<rect x="139.99" y="133.15" width="5.50" height="5.50" fill="#fff" stroke="#111" stroke-width="0.9"/>
<rect x="149.23" y="128.25" width="5.50" height="5.50" fill="#fff" stroke="#111" stroke-width="0.9"/>
<rect x="158.47" y="126.15" width="5.50" height="5.50" fill="#fff" stroke="#111" stroke-width="0.9"/>
<rect x="167.71" y="126.15" width="5.50" height="5.50" fill="#fff" stroke="#111" stroke-width="0.9"/>
<rect x="176.95" y="125.75" width="5.50" height="5.50" fill="#fff" stroke="#111" stroke-width="0.9"/>
<rect x="186.19" y="123.65" width="5.50" height="5.50" fill="#fff" stroke="#111" stroke-width="0.9"/>
<rect x="195.43" y="120.75" width="5.50" height="5.50" fill="#fff" stroke="#111" stroke-width="0.9"/>
<rect x="204.67" y="115.55" width="5.50" height="5.50" fill="#fff" stroke="#111" stroke-width="0.9"/>
<rect x="213.91" y="109.85" width="5.50" height="5.50" fill="#fff" stroke="#111" stroke-width="0.9"/>
<rect x="223.15" y="104.25" width="5.50" height="5.50" fill="#fff" stroke="#111" stroke-width="0.9"/>
<rect x="232.39" y="99.05" width="5.50" height="5.50" fill="#fff" stroke="#111" stroke-width="0.9"/>
<rect x="241.63" y="94.45" width="5.50" height="5.50" fill="#fff" stroke="#111" stroke-width="0.9"/>
<path d="M142.74,138.90L145.74,144.10L139.74,144.10Z" fill="#fff" stroke="#111" stroke-width="0.9"/>
<path d="M151.98,135.40L154.98,140.60L148.98,140.60Z" fill="#fff" stroke="#111" stroke-width="0.9"/>
<path d="M161.22,132.70L164.22,137.90L158.22,137.90Z" fill="#fff" stroke="#111" stroke-width="0.9"/>
<path d="M170.46,132.30L173.46,137.50L167.46,137.50Z" fill="#fff" stroke="#111" stroke-width="0.9"/>
<path d="M179.70,133.00L182.70,138.20L176.70,138.20Z" fill="#fff" stroke="#111" stroke-width="0.9"/>
<path d="M188.94,132.70L191.94,137.90L185.94,137.90Z" fill="#fff" stroke="#111" stroke-width="0.9"/>
<path d="M198.18,130.00L201.18,135.20L195.18,135.20Z" fill="#fff" stroke="#111" stroke-width="0.9"/>
<path d="M207.42,127.70L210.42,132.90L204.42,132.90Z" fill="#fff" stroke="#111" stroke-width="0.9"/>
<path d="M216.66,123.20L219.66,128.40L213.66,128.40Z" fill="#fff" stroke="#111" stroke-width="0.9"/>
<path d="M225.90,119.10L228.90,124.30L222.90,124.30Z" fill="#fff" stroke="#111" stroke-width="0.9"/>
<path d="M235.14,114.10L238.14,119.30L232.14,119.30Z" fill="#fff" stroke="#111" stroke-width="0.9"/>
<path d="M244.38,109.60L247.38,114.80L241.38,114.80Z" fill="#fff" stroke="#111" stroke-width="0.9"/>
<circle cx="142.74" cy="154.60" r="2.85" fill="#fff" stroke="#111" stroke-width="0.9"/>
<circle cx="151.98" cy="149.80" r="2.85" fill="#fff" stroke="#111" stroke-width="0.9"/>
<circle cx="161.22" cy="142.70" r="2.85" fill="#fff" stroke="#111" stroke-width="0.9"/>
<circle cx="170.46" cy="140.50" r="2.85" fill="#fff" stroke="#111" stroke-width="0.9"/>
<circle cx="179.70" cy="142.30" r="2.85" fill="#fff" stroke="#111" stroke-width="0.9"/>
<circle cx="188.94" cy="146.50" r="2.85" fill="#fff" stroke="#111" stroke-width="0.9"/>
<circle cx="198.18" cy="150.40" r="2.85" fill="#fff" stroke="#111" stroke-width="0.9"/>
<circle cx="207.42" cy="153.00" r="2.85" fill="#fff" stroke="#111" stroke-width="0.9"/>
<circle cx="216.66" cy="153.60" r="2.85" fill="#fff" stroke="#111" stroke-width="0.9"/>
<circle cx="225.90" cy="153.10" r="2.85" fill="#fff" stroke="#111" stroke-width="0.9"/>
<circle cx="235.14" cy="152.20" r="2.85" fill="#fff" stroke="#111" stroke-width="0.9"/>
<circle cx="244.38" cy="151.30" r="2.85" fill="#fff" stroke="#111" stroke-width="0.9"/>
<path d="M142.74,164.10L145.84,167.20L142.74,170.30L139.64,167.20Z" fill="#fff" stroke="#111" stroke-width="0.9"/>
<path d="M151.98,162.00L155.08,165.10L151.98,168.20L148.88,165.10Z" fill="#fff" stroke="#111" stroke-width="0.9"/>
<path d="M161.22,158.30L164.32,161.40L161.22,164.50L158.12,161.40Z" fill="#fff" stroke="#111" stroke-width="0.9"/>
<path d="M170.46,152.60L173.56,155.70L170.46,158.80L167.36,155.70Z" fill="#fff" stroke="#111" stroke-width="0.9"/>
<path d="M179.70,148.70L182.80,151.80L179.70,154.90L176.60,151.80Z" fill="#fff" stroke="#111" stroke-width="0.9"/>
<path d="M188.94,148.40L192.04,151.50L188.94,154.60L185.84,151.50Z" fill="#fff" stroke="#111" stroke-width="0.9"/>
<path d="M198.18,151.80L201.28,154.90L198.18,158.00L195.08,154.90Z" fill="#fff" stroke="#111" stroke-width="0.9"/>
<path d="M207.42,155.70L210.52,158.80L207.42,161.90L204.32,158.80Z" fill="#fff" stroke="#111" stroke-width="0.9"/>
<path d="M216.66,160.20L219.76,163.30L216.66,166.40L213.56,163.30Z" fill="#fff" stroke="#111" stroke-width="0.9"/>
<path d="M225.90,164.70L229.00,167.80L225.90,170.90L222.80,167.80Z" fill="#fff" stroke="#111" stroke-width="0.9"/>
<path d="M235.14,167.70L238.24,170.80L235.14,173.90L232.04,170.80Z" fill="#fff" stroke="#111" stroke-width="0.9"/>
<path d="M244.38,170.90L247.48,174.00L244.38,177.10L241.28,174.00Z" fill="#fff" stroke="#111" stroke-width="0.9"/>
<path d="M139.94,177.00L145.54,182.60M145.54,177.00L139.94,182.60M142.74,176.70L142.74,182.90" fill="none" stroke="#111" stroke-width="0.85"/>
<path d="M149.18,177.80L154.78,183.40M154.78,177.80L149.18,183.40M151.98,177.50L151.98,183.70" fill="none" stroke="#111" stroke-width="0.85"/>
<path d="M158.42,178.60L164.02,184.20M164.02,178.60L158.42,184.20M161.22,178.30L161.22,184.50" fill="none" stroke="#111" stroke-width="0.85"/>
<path d="M167.66,181.10L173.26,186.70M173.26,181.10L167.66,186.70M170.46,180.80L170.46,187.00" fill="none" stroke="#111" stroke-width="0.85"/>
<path d="M176.90,182.60L182.50,188.20M182.50,182.60L176.90,188.20M179.70,182.30L179.70,188.50" fill="none" stroke="#111" stroke-width="0.85"/>
<path d="M186.14,184.70L191.74,190.30M191.74,184.70L186.14,190.30M188.94,184.40L188.94,190.60" fill="none" stroke="#111" stroke-width="0.85"/>
<path d="M195.38,187.20L200.98,192.80M200.98,187.20L195.38,192.80M198.18,186.90L198.18,193.10" fill="none" stroke="#111" stroke-width="0.85"/>
<path d="M204.62,188.60L210.22,194.20M210.22,188.60L204.62,194.20M207.42,188.30L207.42,194.50" fill="none" stroke="#111" stroke-width="0.85"/>
<path d="M213.86,190.00L219.46,195.60M219.46,190.00L213.86,195.60M216.66,189.70L216.66,195.90" fill="none" stroke="#111" stroke-width="0.85"/>
<path d="M223.10,191.50L228.70,197.10M228.70,191.50L223.10,197.10M225.90,191.20L225.90,197.40" fill="none" stroke="#111" stroke-width="0.85"/>
<path d="M232.34,193.10L237.94,198.70M237.94,193.10L232.34,198.70M235.14,192.80L235.14,199.00" fill="none" stroke="#111" stroke-width="0.85"/>
<path d="M241.58,195.50L247.18,201.10M247.18,195.50L241.58,201.10M244.38,195.20L244.38,201.40" fill="none" stroke="#111" stroke-width="0.85"/>
<rect x="139.99" y="192.45" width="5.50" height="5.50" fill="#fff" stroke="#111" stroke-width="0.9"/>
<rect x="149.23" y="197.35" width="5.50" height="5.50" fill="#fff" stroke="#111" stroke-width="0.9"/>
<rect x="158.47" y="199.95" width="5.50" height="5.50" fill="#fff" stroke="#111" stroke-width="0.9"/>
<rect x="167.71" y="202.25" width="5.50" height="5.50" fill="#fff" stroke="#111" stroke-width="0.9"/>
<rect x="176.95" y="203.55" width="5.50" height="5.50" fill="#fff" stroke="#111" stroke-width="0.9"/>
<rect x="186.19" y="204.05" width="5.50" height="5.50" fill="#fff" stroke="#111" stroke-width="0.9"/>
<rect x="195.43" y="204.05" width="5.50" height="5.50" fill="#fff" stroke="#111" stroke-width="0.9"/>
<rect x="204.67" y="204.05" width="5.50" height="5.50" fill="#fff" stroke="#111" stroke-width="0.9"/>
<rect x="213.91" y="204.05" width="5.50" height="5.50" fill="#fff" stroke="#111" stroke-width="0.9"/>
<rect x="223.15" y="204.05" width="5.50" height="5.50" fill="#fff" stroke="#111" stroke-width="0.9"/>
<rect x="232.39" y="204.05" width="5.50" height="5.50" fill="#fff" stroke="#111" stroke-width="0.9"/>
<rect x="241.63" y="203.45" width="5.50" height="5.50" fill="#fff" stroke="#111" stroke-width="0.9"/>
<path d="M142.74,205.90L145.74,211.10L139.74,211.10Z" fill="#fff" stroke="#111" stroke-width="0.9"/>
<path d="M151.98,207.40L154.98,212.60L148.98,212.60Z" fill="#fff" stroke="#111" stroke-width="0.9"/>
<path d="M161.22,208.40L164.22,213.60L158.22,213.60Z" fill="#fff" stroke="#111" stroke-width="0.9"/>
<path d="M170.46,208.90L173.46,214.10L167.46,214.10Z" fill="#fff" stroke="#111" stroke-width="0.9"/>
<path d="M179.70,209.40L182.70,214.60L176.70,214.60Z" fill="#fff" stroke="#111" stroke-width="0.9"/>
<path d="M188.94,209.40L191.94,214.60L185.94,214.60Z" fill="#fff" stroke="#111" stroke-width="0.9"/>
<path d="M198.18,209.40L201.18,214.60L195.18,214.60Z" fill="#fff" stroke="#111" stroke-width="0.9"/>
<path d="M207.42,209.40L210.42,214.60L204.42,214.60Z" fill="#fff" stroke="#111" stroke-width="0.9"/>
<path d="M216.66,209.40L219.66,214.60L213.66,214.60Z" fill="#fff" stroke="#111" stroke-width="0.9"/>
<path d="M225.90,209.40L228.90,214.60L222.90,214.60Z" fill="#fff" stroke="#111" stroke-width="0.9"/>
<path d="M235.14,209.40L238.14,214.60L232.14,214.60Z" fill="#fff" stroke="#111" stroke-width="0.9"/>
<path d="M244.38,209.40L247.38,214.60L241.38,214.60Z" fill="#fff" stroke="#111" stroke-width="0.9"/>
<circle cx="142.74" cy="219.50" r="2.85" fill="#fff" stroke="#111" stroke-width="0.9"/>
<circle cx="151.98" cy="220.50" r="2.85" fill="#fff" stroke="#111" stroke-width="0.9"/>
<circle cx="161.22" cy="221.00" r="2.85" fill="#fff" stroke="#111" stroke-width="0.9"/>
<circle cx="170.46" cy="221.50" r="2.85" fill="#fff" stroke="#111" stroke-width="0.9"/>
<circle cx="179.70" cy="221.80" r="2.85" fill="#fff" stroke="#111" stroke-width="0.9"/>
<circle cx="188.94" cy="222.00" r="2.85" fill="#fff" stroke="#111" stroke-width="0.9"/>
<circle cx="198.18" cy="222.00" r="2.85" fill="#fff" stroke="#111" stroke-width="0.9"/>
<circle cx="207.42" cy="222.00" r="2.85" fill="#fff" stroke="#111" stroke-width="0.9"/>
<circle cx="216.66" cy="222.00" r="2.85" fill="#fff" stroke="#111" stroke-width="0.9"/>
<circle cx="225.90" cy="222.00" r="2.85" fill="#fff" stroke="#111" stroke-width="0.9"/>
<circle cx="235.14" cy="222.00" r="2.85" fill="#fff" stroke="#111" stroke-width="0.9"/>
<circle cx="244.38" cy="222.00" r="2.85" fill="#fff" stroke="#111" stroke-width="0.9"/>
<path d="M142.74,209.90L145.84,213.00L142.74,216.10L139.64,213.00Z" fill="#fff" stroke="#111" stroke-width="0.9"/>
<path d="M151.98,210.40L155.08,213.50L151.98,216.60L148.88,213.50Z" fill="#fff" stroke="#111" stroke-width="0.9"/>
<path d="M161.22,210.40L164.32,213.50L161.22,216.60L158.12,213.50Z" fill="#fff" stroke="#111" stroke-width="0.9"/>
<path d="M170.46,210.40L173.56,213.50L170.46,216.60L167.36,213.50Z" fill="#fff" stroke="#111" stroke-width="0.9"/>
<path d="M179.70,210.40L182.80,213.50L179.70,216.60L176.60,213.50Z" fill="#fff" stroke="#111" stroke-width="0.9"/>
<path d="M188.94,210.40L192.04,213.50L188.94,216.60L185.84,213.50Z" fill="#fff" stroke="#111" stroke-width="0.9"/>
<path d="M198.18,210.40L201.28,213.50L198.18,216.60L195.08,213.50Z" fill="#fff" stroke="#111" stroke-width="0.9"/>
<path d="M207.42,210.40L210.52,213.50L207.42,216.60L204.32,213.50Z" fill="#fff" stroke="#111" stroke-width="0.9"/>
<path d="M216.66,210.40L219.76,213.50L216.66,216.60L213.56,213.50Z" fill="#fff" stroke="#111" stroke-width="0.9"/>
<path d="M225.90,210.40L229.00,213.50L225.90,216.60L222.80,213.50Z" fill="#fff" stroke="#111" stroke-width="0.9"/>
<path d="M235.14,210.40L238.24,213.50L235.14,216.60L232.04,213.50Z" fill="#fff" stroke="#111" stroke-width="0.9"/>
<path d="M244.38,210.40L247.48,213.50L244.38,216.60L241.28,213.50Z" fill="#fff" stroke="#111" stroke-width="0.9"/>
<path d="M373.90,186.00L382.96,178.00L392.02,175.30L401.08,172.50L410.14,168.80L419.20,163.10L428.26,155.00L437.32,146.80L446.38,139.50L455.44,133.00L464.50,126.50L473.56,124.50L482.62,118.80L491.68,118.80L500.74,117.20L509.80,110.10L518.86,102.10L527.92,95.00L536.98,87.40L546.04,83.50L555.10,79.90L564.16,77.60L573.22,74.50L582.28,69.90" fill="none" stroke="#111" stroke-width="0.9"/>
<path d="M373.90,186.00L382.96,178.10L392.02,175.40L401.08,172.60L410.14,168.90L419.20,163.20L428.26,155.10L437.32,146.90L446.38,139.60L455.44,133.10L464.50,126.60L473.56,124.50L482.62,126.40L491.68,127.50L500.74,124.80L509.80,118.50L518.86,109.70L527.92,102.80L536.98,95.50L546.04,89.00L555.10,85.10L564.16,84.00L573.22,84.00L582.28,81.70" fill="none" stroke="#111" stroke-width="0.9"/>
<path d="M373.90,186.00L382.96,178.20L392.02,175.50L401.08,172.70L410.14,169.00L419.20,163.30L428.26,155.20L437.32,147.00L446.38,139.70L455.44,133.20L464.50,126.70L473.56,124.50L482.62,130.00L491.68,131.00L500.74,129.00L509.80,122.20L518.86,116.40L527.92,109.00L536.98,101.60L546.04,95.30L555.10,91.90L564.16,91.20L573.22,91.90L582.28,91.90" fill="none" stroke="#111" stroke-width="0.9"/>
<path d="M373.90,186.00L382.96,181.00L392.02,178.30L401.08,175.50L410.14,171.80L419.20,166.10L428.26,158.00L437.32,149.80L446.38,142.50L455.44,136.00L464.50,129.50L473.56,124.50L482.62,140.80L491.68,143.10L500.74,143.10L509.80,139.60L518.86,134.90L527.92,127.60L536.98,121.70L546.04,116.80L555.10,111.20L564.16,107.20L573.22,103.80L582.28,102.70" fill="none" stroke="#111" stroke-width="0.9"/>
<path d="M373.90,186.00L382.96,182.00L392.02,179.30L401.08,176.50L410.14,172.80L419.20,167.10L428.26,159.00L437.32,150.80L446.38,143.50L455.44,137.00L464.50,130.50L473.56,124.50L482.62,146.00L491.68,147.80L500.74,147.60L509.80,145.50L518.86,147.00L527.92,143.70L536.98,138.80L546.04,134.40L555.10,130.70L564.16,127.60L573.22,123.90L582.28,121.00" fill="none" stroke="#111" stroke-width="0.9"/>
<path d="M373.90,186.00L382.96,182.00L392.02,179.30L401.08,176.50L410.14,172.80L419.20,167.10L428.26,159.00L437.32,150.80L446.38,143.50L455.44,137.00L464.50,130.50L473.56,124.50L482.62,151.30L491.68,154.40L500.74,154.40L509.80,152.50L518.86,153.00L527.92,156.50L536.98,156.80L546.04,156.30L555.10,154.80L564.16,154.50L573.22,154.10L582.28,153.40" fill="none" stroke="#111" stroke-width="0.9"/>
<path d="M373.90,186.00L382.96,182.00L392.02,179.30L401.08,176.50L410.14,172.80L419.20,167.10L428.26,159.00L437.32,150.80L446.38,143.50L455.44,137.00L464.50,130.50L473.56,124.50L482.62,160.50L491.68,161.40L500.74,162.20L509.80,161.40L518.86,161.50L527.92,163.60L536.98,166.20L546.04,168.30L555.10,169.80L564.16,170.10L573.22,170.40L582.28,170.80" fill="none" stroke="#111" stroke-width="0.9"/>
<path d="M373.90,186.00L382.96,180.00L392.02,177.30L401.08,174.50L410.14,170.80L419.20,165.10L428.26,157.00L437.32,148.80L446.38,141.50L455.44,135.00L464.50,128.50L473.56,124.50L482.62,165.70L491.68,166.60L500.74,166.90L509.80,166.90L518.86,167.80L527.92,169.30L536.98,169.80L546.04,171.40L555.10,172.20L564.16,174.30L573.22,175.00L582.28,176.80" fill="none" stroke="#111" stroke-width="0.9"/>
<path d="M373.90,186.00L382.96,178.00L392.02,175.30L401.08,172.50L410.14,168.80L419.20,163.10L428.26,155.00L437.32,146.80L446.38,139.50L455.44,133.00L464.50,126.50L473.56,124.50L482.62,176.10L491.68,177.50L500.74,179.00L509.80,182.50L518.86,187.40L527.92,191.40L536.98,195.00L546.04,199.00L555.10,201.50L564.16,203.50L573.22,204.50L582.28,204.50" fill="none" stroke="#111" stroke-width="0.9" stroke-dasharray="2.2,1.6"/>
<path d="M373.90,186.00L382.96,178.10L392.02,175.40L401.08,172.60L410.14,168.90L419.20,163.20L428.26,155.10L437.32,146.90L446.38,139.60L455.44,133.10L464.50,126.60L473.56,124.50L482.62,180.50L491.68,182.00L500.74,186.00L509.80,191.80L518.86,197.00L527.92,200.00L536.98,202.00L546.04,203.50L555.10,204.00L564.16,204.50L573.22,205.00L582.28,205.00" fill="none" stroke="#111" stroke-width="0.9" stroke-dasharray="2.2,1.6"/>
<path d="M373.90,186.00L382.96,178.20L392.02,175.50L401.08,172.70L410.14,169.00L419.20,163.30L428.26,155.20L437.32,147.00L446.38,139.70L455.44,133.20L464.50,126.70L473.56,124.50L482.62,185.20L491.68,188.50L500.74,194.70L509.80,198.40L518.86,201.50L527.92,201.50L536.98,203.50L546.04,204.00L555.10,204.50L564.16,205.00L573.22,205.00L582.28,205.00" fill="none" stroke="#111" stroke-width="0.9" stroke-dasharray="2.2,1.6"/>
<path d="M373.90,186.00L382.96,178.30L392.02,175.60L401.08,172.80L410.14,169.10L419.20,163.40L428.26,155.30L437.32,147.10L446.38,139.80L455.44,133.30L464.50,126.80L473.56,124.50L482.62,195.70L491.68,202.40L500.74,205.30L509.80,206.00L518.86,206.00L527.92,205.50L536.98,205.50L546.04,205.00L555.10,205.00L564.16,205.00L573.22,205.00L582.28,205.00" fill="none" stroke="#111" stroke-width="0.9" stroke-dasharray="2.2,1.6"/>
<path d="M373.90,186.00L382.96,180.00L392.02,177.30L401.08,174.50L410.14,170.80L419.20,165.10L428.26,157.00L437.32,148.80L446.38,141.50L455.44,135.00L464.50,128.50L473.56,124.50L482.62,208.30L491.68,210.00L500.74,210.50L509.80,210.30L518.86,210.50L527.92,211.00L536.98,211.30L546.04,211.50L555.10,211.50L564.16,211.50L573.22,211.50L582.28,211.50" fill="none" stroke="#111" stroke-width="0.9" stroke-dasharray="2.2,1.6"/>
<path d="M482.62,115.80L482.62,121.80M480.02,115.80L485.22,115.80M480.02,121.80L485.22,121.80" fill="none" stroke="#111" stroke-width="0.85"/>
<path d="M491.68,115.80L491.68,121.80M489.08,115.80L494.28,115.80M489.08,121.80L494.28,121.80" fill="none" stroke="#111" stroke-width="0.85"/>
<path d="M500.74,114.20L500.74,120.20M498.14,114.20L503.34,114.20M498.14,120.20L503.34,120.20" fill="none" stroke="#111" stroke-width="0.85"/>
<path d="M509.80,107.10L509.80,113.10M507.20,107.10L512.40,107.10M507.20,113.10L512.40,113.10" fill="none" stroke="#111" stroke-width="0.85"/>
<path d="M518.86,99.10L518.86,105.10M516.26,99.10L521.46,99.10M516.26,105.10L521.46,105.10" fill="none" stroke="#111" stroke-width="0.85"/>
<path d="M527.92,92.00L527.92,98.00M525.32,92.00L530.52,92.00M525.32,98.00L530.52,98.00" fill="none" stroke="#111" stroke-width="0.85"/>
<path d="M536.98,84.40L536.98,90.40M534.38,84.40L539.58,84.40M534.38,90.40L539.58,90.40" fill="none" stroke="#111" stroke-width="0.85"/>
<path d="M546.04,80.50L546.04,86.50M543.44,80.50L548.64,80.50M543.44,86.50L548.64,86.50" fill="none" stroke="#111" stroke-width="0.85"/>
<path d="M555.10,76.90L555.10,82.90M552.50,76.90L557.70,76.90M552.50,82.90L557.70,82.90" fill="none" stroke="#111" stroke-width="0.85"/>
<path d="M564.16,74.60L564.16,80.60M561.56,74.60L566.76,74.60M561.56,80.60L566.76,80.60" fill="none" stroke="#111" stroke-width="0.85"/>
<path d="M573.22,71.50L573.22,77.50M570.62,71.50L575.82,71.50M570.62,77.50L575.82,77.50" fill="none" stroke="#111" stroke-width="0.85"/>
<path d="M582.28,66.90L582.28,72.90M579.68,66.90L584.88,66.90M579.68,72.90L584.88,72.90" fill="none" stroke="#111" stroke-width="0.85"/>
<path d="M482.62,122.40L482.62,130.40M480.02,122.40L485.22,122.40M480.02,130.40L485.22,130.40" fill="none" stroke="#111" stroke-width="0.85"/>
<path d="M491.68,123.50L491.68,131.50M489.08,123.50L494.28,123.50M489.08,131.50L494.28,131.50" fill="none" stroke="#111" stroke-width="0.85"/>
<path d="M500.74,120.80L500.74,128.80M498.14,120.80L503.34,120.80M498.14,128.80L503.34,128.80" fill="none" stroke="#111" stroke-width="0.85"/>
<path d="M509.80,114.50L509.80,122.50M507.20,114.50L512.40,114.50M507.20,122.50L512.40,122.50" fill="none" stroke="#111" stroke-width="0.85"/>
<path d="M518.86,105.70L518.86,113.70M516.26,105.70L521.46,105.70M516.26,113.70L521.46,113.70" fill="none" stroke="#111" stroke-width="0.85"/>
<path d="M527.92,98.80L527.92,106.80M525.32,98.80L530.52,98.80M525.32,106.80L530.52,106.80" fill="none" stroke="#111" stroke-width="0.85"/>
<path d="M536.98,91.50L536.98,99.50M534.38,91.50L539.58,91.50M534.38,99.50L539.58,99.50" fill="none" stroke="#111" stroke-width="0.85"/>
<path d="M546.04,85.00L546.04,93.00M543.44,85.00L548.64,85.00M543.44,93.00L548.64,93.00" fill="none" stroke="#111" stroke-width="0.85"/>
<path d="M555.10,81.10L555.10,89.10M552.50,81.10L557.70,81.10M552.50,89.10L557.70,89.10" fill="none" stroke="#111" stroke-width="0.85"/>
<path d="M564.16,80.00L564.16,88.00M561.56,80.00L566.76,80.00M561.56,88.00L566.76,88.00" fill="none" stroke="#111" stroke-width="0.85"/>
<path d="M573.22,80.00L573.22,88.00M570.62,80.00L575.82,80.00M570.62,88.00L575.82,88.00" fill="none" stroke="#111" stroke-width="0.85"/>
<path d="M582.28,77.70L582.28,85.70M579.68,77.70L584.88,77.70M579.68,85.70L584.88,85.70" fill="none" stroke="#111" stroke-width="0.85"/>
<path d="M482.62,126.00L482.62,135.00M480.02,126.00L485.22,126.00M480.02,135.00L485.22,135.00" fill="none" stroke="#111" stroke-width="0.85"/>
<path d="M491.68,127.00L491.68,136.00M489.08,127.00L494.28,127.00M489.08,136.00L494.28,136.00" fill="none" stroke="#111" stroke-width="0.85"/>
<path d="M500.74,125.00L500.74,134.00M498.14,125.00L503.34,125.00M498.14,134.00L503.34,134.00" fill="none" stroke="#111" stroke-width="0.85"/>
<path d="M509.80,118.20L509.80,127.20M507.20,118.20L512.40,118.20M507.20,127.20L512.40,127.20" fill="none" stroke="#111" stroke-width="0.85"/>
<path d="M518.86,112.40L518.86,121.40M516.26,112.40L521.46,112.40M516.26,121.40L521.46,121.40" fill="none" stroke="#111" stroke-width="0.85"/>
<path d="M527.92,105.00L527.92,114.00M525.32,105.00L530.52,105.00M525.32,114.00L530.52,114.00" fill="none" stroke="#111" stroke-width="0.85"/>
<path d="M536.98,97.60L536.98,106.60M534.38,97.60L539.58,97.60M534.38,106.60L539.58,106.60" fill="none" stroke="#111" stroke-width="0.85"/>
<path d="M546.04,91.30L546.04,100.30M543.44,91.30L548.64,91.30M543.44,100.30L548.64,100.30" fill="none" stroke="#111" stroke-width="0.85"/>
<path d="M555.10,87.90L555.10,96.90M552.50,87.90L557.70,87.90M552.50,96.90L557.70,96.90" fill="none" stroke="#111" stroke-width="0.85"/>
<path d="M564.16,87.20L564.16,96.20M561.56,87.20L566.76,87.20M561.56,96.20L566.76,96.20" fill="none" stroke="#111" stroke-width="0.85"/>
<path d="M573.22,87.90L573.22,96.90M570.62,87.90L575.82,87.90M570.62,96.90L575.82,96.90" fill="none" stroke="#111" stroke-width="0.85"/>
<path d="M582.28,87.90L582.28,96.90M579.68,87.90L584.88,87.90M579.68,96.90L584.88,96.90" fill="none" stroke="#111" stroke-width="0.85"/>
<path d="M482.62,136.80L482.62,144.80M480.02,136.80L485.22,136.80M480.02,144.80L485.22,144.80" fill="none" stroke="#111" stroke-width="0.85"/>
<path d="M491.68,138.80L491.68,147.40M489.08,138.80L494.28,138.80M489.08,147.40L494.28,147.40" fill="none" stroke="#111" stroke-width="0.85"/>
<path d="M500.74,138.50L500.74,147.70M498.14,138.50L503.34,138.50M498.14,147.70L503.34,147.70" fill="none" stroke="#111" stroke-width="0.85"/>
<path d="M509.80,134.70L509.80,144.50M507.20,134.70L512.40,134.70M507.20,144.50L512.40,144.50" fill="none" stroke="#111" stroke-width="0.85"/>
<path d="M518.86,129.70L518.86,140.10M516.26,129.70L521.46,129.70M516.26,140.10L521.46,140.10" fill="none" stroke="#111" stroke-width="0.85"/>
<path d="M527.92,122.10L527.92,133.10M525.32,122.10L530.52,122.10M525.32,133.10L530.52,133.10" fill="none" stroke="#111" stroke-width="0.85"/>
<path d="M536.98,115.90L536.98,127.50M534.38,115.90L539.58,115.90M534.38,127.50L539.58,127.50" fill="none" stroke="#111" stroke-width="0.85"/>
<path d="M546.04,110.70L546.04,122.90M543.44,110.70L548.64,110.70M543.44,122.90L548.64,122.90" fill="none" stroke="#111" stroke-width="0.85"/>
<path d="M555.10,104.80L555.10,117.60M552.50,104.80L557.70,104.80M552.50,117.60L557.70,117.60" fill="none" stroke="#111" stroke-width="0.85"/>
<path d="M564.16,100.50L564.16,113.90M561.56,100.50L566.76,100.50M561.56,113.90L566.76,113.90" fill="none" stroke="#111" stroke-width="0.85"/>
<path d="M573.22,96.80L573.22,110.80M570.62,96.80L575.82,96.80M570.62,110.80L575.82,110.80" fill="none" stroke="#111" stroke-width="0.85"/>
<path d="M582.28,95.40L582.28,110.00M579.68,95.40L584.88,95.40M579.68,110.00L584.88,110.00" fill="none" stroke="#111" stroke-width="0.85"/>
<path d="M482.62,141.50L482.62,150.50M480.02,141.50L485.22,141.50M480.02,150.50L485.22,150.50" fill="none" stroke="#111" stroke-width="0.85"/>
<path d="M491.68,143.08L491.68,152.52M489.08,143.08L494.28,143.08M489.08,152.52L494.28,152.52" fill="none" stroke="#111" stroke-width="0.85"/>
<path d="M500.74,142.66L500.74,152.54M498.14,142.66L503.34,142.66M498.14,152.54L503.34,152.54" fill="none" stroke="#111" stroke-width="0.85"/>
<path d="M509.80,140.34L509.80,150.66M507.20,140.34L512.40,140.34M507.20,150.66L512.40,150.66" fill="none" stroke="#111" stroke-width="0.85"/>
<path d="M518.86,141.62L518.86,152.38M516.26,141.62L521.46,141.62M516.26,152.38L521.46,152.38" fill="none" stroke="#111" stroke-width="0.85"/>
<path d="M527.92,138.10L527.92,149.30M525.32,138.10L530.52,138.10M525.32,149.30L530.52,149.30" fill="none" stroke="#111" stroke-width="0.85"/>
<path d="M536.98,132.98L536.98,144.62M534.38,132.98L539.58,132.98M534.38,144.62L539.58,144.62" fill="none" stroke="#111" stroke-width="0.85"/>
<path d="M546.04,128.36L546.04,140.44M543.44,128.36L548.64,128.36M543.44,140.44L548.64,140.44" fill="none" stroke="#111" stroke-width="0.85"/>
<path d="M555.10,124.44L555.10,136.96M552.50,124.44L557.70,124.44M552.50,136.96L557.70,136.96" fill="none" stroke="#111" stroke-width="0.85"/>
<path d="M564.16,121.12L564.16,134.08M561.56,121.12L566.76,121.12M561.56,134.08L566.76,134.08" fill="none" stroke="#111" stroke-width="0.85"/>
<path d="M573.22,117.20L573.22,130.60M570.62,117.20L575.82,117.20M570.62,130.60L575.82,130.60" fill="none" stroke="#111" stroke-width="0.85"/>
<path d="M582.28,114.08L582.28,127.92M579.68,114.08L584.88,114.08M579.68,127.92L584.88,127.92" fill="none" stroke="#111" stroke-width="0.85"/>
<path d="M482.62,145.30L482.62,157.30M480.02,145.30L485.22,145.30M480.02,157.30L485.22,157.30" fill="none" stroke="#111" stroke-width="0.85"/>
<path d="M491.68,148.05L491.68,160.75M489.08,148.05L494.28,148.05M489.08,160.75L494.28,160.75" fill="none" stroke="#111" stroke-width="0.85"/>
<path d="M500.74,147.70L500.74,161.10M498.14,147.70L503.34,147.70M498.14,161.10L503.34,161.10" fill="none" stroke="#111" stroke-width="0.85"/>
<path d="M509.80,145.45L509.80,159.55M507.20,145.45L512.40,145.45M507.20,159.55L512.40,159.55" fill="none" stroke="#111" stroke-width="0.85"/>
<path d="M518.86,145.60L518.86,160.40M516.26,145.60L521.46,145.60M516.26,160.40L521.46,160.40" fill="none" stroke="#111" stroke-width="0.85"/>
<path d="M527.92,148.75L527.92,164.25M525.32,148.75L530.52,148.75M525.32,164.25L530.52,164.25" fill="none" stroke="#111" stroke-width="0.85"/>
<path d="M536.98,148.70L536.98,164.90M534.38,148.70L539.58,148.70M534.38,164.90L539.58,164.90" fill="none" stroke="#111" stroke-width="0.85"/>
<path d="M546.04,147.85L546.04,164.75M543.44,147.85L548.64,147.85M543.44,164.75L548.64,164.75" fill="none" stroke="#111" stroke-width="0.85"/>
<path d="M555.10,146.00L555.10,163.60M552.50,146.00L557.70,146.00M552.50,163.60L557.70,163.60" fill="none" stroke="#111" stroke-width="0.85"/>
<path d="M564.16,145.35L564.16,163.65M561.56,145.35L566.76,145.35M561.56,163.65L566.76,163.65" fill="none" stroke="#111" stroke-width="0.85"/>
<path d="M573.22,144.60L573.22,163.60M570.62,144.60L575.82,144.60M570.62,163.60L575.82,163.60" fill="none" stroke="#111" stroke-width="0.85"/>
<path d="M582.28,143.55L582.28,163.25M579.68,143.55L584.88,143.55M579.68,163.25L584.88,163.25" fill="none" stroke="#111" stroke-width="0.85"/>
<path d="M482.62,155.50L482.62,165.50M480.02,155.50L485.22,155.50M480.02,165.50L485.22,165.50" fill="none" stroke="#111" stroke-width="0.85"/>
<path d="M491.68,156.10L491.68,166.70M489.08,156.10L494.28,156.10M489.08,166.70L494.28,166.70" fill="none" stroke="#111" stroke-width="0.85"/>
<path d="M500.74,156.60L500.74,167.80M498.14,156.60L503.34,156.60M498.14,167.80L503.34,167.80" fill="none" stroke="#111" stroke-width="0.85"/>
<path d="M509.80,155.50L509.80,167.30M507.20,155.50L512.40,155.50M507.20,167.30L512.40,167.30" fill="none" stroke="#111" stroke-width="0.85"/>
<path d="M518.86,155.30L518.86,167.70M516.26,155.30L521.46,155.30M516.26,167.70L521.46,167.70" fill="none" stroke="#111" stroke-width="0.85"/>
<path d="M527.92,157.10L527.92,170.10M525.32,157.10L530.52,157.10M525.32,170.10L530.52,170.10" fill="none" stroke="#111" stroke-width="0.85"/>
<path d="M536.98,159.40L536.98,173.00M534.38,159.40L539.58,159.40M534.38,173.00L539.58,173.00" fill="none" stroke="#111" stroke-width="0.85"/>
<path d="M546.04,161.20L546.04,175.40M543.44,161.20L548.64,161.20M543.44,175.40L548.64,175.40" fill="none" stroke="#111" stroke-width="0.85"/>
<path d="M555.10,162.40L555.10,177.20M552.50,162.40L557.70,162.40M552.50,177.20L557.70,177.20" fill="none" stroke="#111" stroke-width="0.85"/>
<path d="M564.16,162.40L564.16,177.80M561.56,162.40L566.76,162.40M561.56,177.80L566.76,177.80" fill="none" stroke="#111" stroke-width="0.85"/>
<path d="M573.22,162.40L573.22,178.40M570.62,162.40L575.82,162.40M570.62,178.40L575.82,178.40" fill="none" stroke="#111" stroke-width="0.85"/>
<path d="M582.28,162.50L582.28,179.10M579.68,162.50L584.88,162.50M579.68,179.10L584.88,179.10" fill="none" stroke="#111" stroke-width="0.85"/>
<path d="M482.62,160.70L482.62,170.70M480.02,160.70L485.22,160.70M480.02,170.70L485.22,170.70" fill="none" stroke="#111" stroke-width="0.85"/>
<path d="M491.68,161.30L491.68,171.90M489.08,161.30L494.28,161.30M489.08,171.90L494.28,171.90" fill="none" stroke="#111" stroke-width="0.85"/>
<path d="M500.74,161.30L500.74,172.50M498.14,161.30L503.34,161.30M498.14,172.50L503.34,172.50" fill="none" stroke="#111" stroke-width="0.85"/>
<path d="M509.80,161.00L509.80,172.80M507.20,161.00L512.40,161.00M507.20,172.80L512.40,172.80" fill="none" stroke="#111" stroke-width="0.85"/>
<path d="M518.86,161.60L518.86,174.00M516.26,161.60L521.46,161.60M516.26,174.00L521.46,174.00" fill="none" stroke="#111" stroke-width="0.85"/>
<path d="M527.92,162.80L527.92,175.80M525.32,162.80L530.52,162.80M525.32,175.80L530.52,175.80" fill="none" stroke="#111" stroke-width="0.85"/>
<path d="M536.98,163.00L536.98,176.60M534.38,163.00L539.58,163.00M534.38,176.60L539.58,176.60" fill="none" stroke="#111" stroke-width="0.85"/>
<path d="M546.04,164.30L546.04,178.50M543.44,164.30L548.64,164.30M543.44,178.50L548.64,178.50" fill="none" stroke="#111" stroke-width="0.85"/>
<path d="M555.10,164.80L555.10,179.60M552.50,164.80L557.70,164.80M552.50,179.60L557.70,179.60" fill="none" stroke="#111" stroke-width="0.85"/>
<path d="M564.16,166.60L564.16,182.00M561.56,166.60L566.76,166.60M561.56,182.00L566.76,182.00" fill="none" stroke="#111" stroke-width="0.85"/>
<path d="M573.22,167.00L573.22,183.00M570.62,167.00L575.82,167.00M570.62,183.00L575.82,183.00" fill="none" stroke="#111" stroke-width="0.85"/>
<path d="M582.28,168.50L582.28,185.10M579.68,168.50L584.88,168.50M579.68,185.10L584.88,185.10" fill="none" stroke="#111" stroke-width="0.85"/>
<path d="M482.62,170.10L482.62,182.10M480.02,170.10L485.22,170.10M480.02,182.10L485.22,182.10" fill="none" stroke="#111" stroke-width="0.85"/>
<path d="M491.68,171.50L491.68,183.50M489.08,171.50L494.28,171.50M489.08,183.50L494.28,183.50" fill="none" stroke="#111" stroke-width="0.85"/>
<path d="M500.74,173.00L500.74,185.00M498.14,173.00L503.34,173.00M498.14,185.00L503.34,185.00" fill="none" stroke="#111" stroke-width="0.85"/>
<path d="M509.80,176.50L509.80,188.50M507.20,176.50L512.40,176.50M507.20,188.50L512.40,188.50" fill="none" stroke="#111" stroke-width="0.85"/>
<path d="M518.86,181.40L518.86,193.40M516.26,181.40L521.46,181.40M516.26,193.40L521.46,193.40" fill="none" stroke="#111" stroke-width="0.85"/>
<path d="M527.92,185.40L527.92,197.40M525.32,185.40L530.52,185.40M525.32,197.40L530.52,197.40" fill="none" stroke="#111" stroke-width="0.85"/>
<path d="M536.98,189.00L536.98,201.00M534.38,189.00L539.58,189.00M534.38,201.00L539.58,201.00" fill="none" stroke="#111" stroke-width="0.85"/>
<path d="M546.04,193.00L546.04,205.00M543.44,193.00L548.64,193.00M543.44,205.00L548.64,205.00" fill="none" stroke="#111" stroke-width="0.85"/>
<path d="M555.10,195.50L555.10,207.50M552.50,195.50L557.70,195.50M552.50,207.50L557.70,207.50" fill="none" stroke="#111" stroke-width="0.85"/>
<path d="M564.16,197.50L564.16,209.50M561.56,197.50L566.76,197.50M561.56,209.50L566.76,209.50" fill="none" stroke="#111" stroke-width="0.85"/>
<path d="M573.22,198.50L573.22,210.50M570.62,198.50L575.82,198.50M570.62,210.50L575.82,210.50" fill="none" stroke="#111" stroke-width="0.85"/>
<path d="M582.28,198.50L582.28,210.50M579.68,198.50L584.88,198.50M579.68,210.50L584.88,210.50" fill="none" stroke="#111" stroke-width="0.85"/>
<path d="M482.62,175.50L482.62,185.50M480.02,175.50L485.22,175.50M480.02,185.50L485.22,185.50" fill="none" stroke="#111" stroke-width="0.85"/>
<path d="M491.68,177.00L491.68,187.00M489.08,177.00L494.28,177.00M489.08,187.00L494.28,187.00" fill="none" stroke="#111" stroke-width="0.85"/>
<path d="M500.74,181.00L500.74,191.00M498.14,181.00L503.34,181.00M498.14,191.00L503.34,191.00" fill="none" stroke="#111" stroke-width="0.85"/>
<path d="M509.80,186.80L509.80,196.80M507.20,186.80L512.40,186.80M507.20,196.80L512.40,196.80" fill="none" stroke="#111" stroke-width="0.85"/>
<path d="M518.86,192.00L518.86,202.00M516.26,192.00L521.46,192.00M516.26,202.00L521.46,202.00" fill="none" stroke="#111" stroke-width="0.85"/>
<path d="M527.92,195.00L527.92,205.00M525.32,195.00L530.52,195.00M525.32,205.00L530.52,205.00" fill="none" stroke="#111" stroke-width="0.85"/>
<path d="M536.98,197.00L536.98,207.00M534.38,197.00L539.58,197.00M534.38,207.00L539.58,207.00" fill="none" stroke="#111" stroke-width="0.85"/>
<path d="M546.04,198.50L546.04,208.50M543.44,198.50L548.64,198.50M543.44,208.50L548.64,208.50" fill="none" stroke="#111" stroke-width="0.85"/>
<path d="M555.10,199.00L555.10,209.00M552.50,199.00L557.70,199.00M552.50,209.00L557.70,209.00" fill="none" stroke="#111" stroke-width="0.85"/>
<path d="M564.16,199.50L564.16,209.50M561.56,199.50L566.76,199.50M561.56,209.50L566.76,209.50" fill="none" stroke="#111" stroke-width="0.85"/>
<path d="M573.22,200.00L573.22,210.00M570.62,200.00L575.82,200.00M570.62,210.00L575.82,210.00" fill="none" stroke="#111" stroke-width="0.85"/>
<path d="M582.28,200.00L582.28,210.00M579.68,200.00L584.88,200.00M579.68,210.00L584.88,210.00" fill="none" stroke="#111" stroke-width="0.85"/>
<path d="M482.62,180.20L482.62,190.20M480.02,180.20L485.22,180.20M480.02,190.20L485.22,190.20" fill="none" stroke="#111" stroke-width="0.85"/>
<path d="M491.68,183.50L491.68,193.50M489.08,183.50L494.28,183.50M489.08,193.50L494.28,193.50" fill="none" stroke="#111" stroke-width="0.85"/>
<path d="M500.74,189.70L500.74,199.70M498.14,189.70L503.34,189.70M498.14,199.70L503.34,199.70" fill="none" stroke="#111" stroke-width="0.85"/>
<path d="M509.80,193.40L509.80,203.40M507.20,193.40L512.40,193.40M507.20,203.40L512.40,203.40" fill="none" stroke="#111" stroke-width="0.85"/>
<path d="M518.86,196.50L518.86,206.50M516.26,196.50L521.46,196.50M516.26,206.50L521.46,206.50" fill="none" stroke="#111" stroke-width="0.85"/>
<path d="M527.92,196.50L527.92,206.50M525.32,196.50L530.52,196.50M525.32,206.50L530.52,206.50" fill="none" stroke="#111" stroke-width="0.85"/>
<path d="M536.98,198.50L536.98,208.50M534.38,198.50L539.58,198.50M534.38,208.50L539.58,208.50" fill="none" stroke="#111" stroke-width="0.85"/>
<path d="M546.04,199.00L546.04,209.00M543.44,199.00L548.64,199.00M543.44,209.00L548.64,209.00" fill="none" stroke="#111" stroke-width="0.85"/>
<path d="M555.10,199.50L555.10,209.50M552.50,199.50L557.70,199.50M552.50,209.50L557.70,209.50" fill="none" stroke="#111" stroke-width="0.85"/>
<path d="M564.16,200.00L564.16,210.00M561.56,200.00L566.76,200.00M561.56,210.00L566.76,210.00" fill="none" stroke="#111" stroke-width="0.85"/>
<path d="M573.22,200.00L573.22,210.00M570.62,200.00L575.82,200.00M570.62,210.00L575.82,210.00" fill="none" stroke="#111" stroke-width="0.85"/>
<path d="M582.28,200.00L582.28,210.00M579.68,200.00L584.88,200.00M579.68,210.00L584.88,210.00" fill="none" stroke="#111" stroke-width="0.85"/>
<path d="M482.62,190.70L482.62,200.70M480.02,190.70L485.22,190.70M480.02,200.70L485.22,200.70" fill="none" stroke="#111" stroke-width="0.85"/>
<path d="M491.68,197.40L491.68,207.40M489.08,197.40L494.28,197.40M489.08,207.40L494.28,207.40" fill="none" stroke="#111" stroke-width="0.85"/>
<path d="M500.74,200.30L500.74,210.30M498.14,200.30L503.34,200.30M498.14,210.30L503.34,210.30" fill="none" stroke="#111" stroke-width="0.85"/>
<path d="M509.80,201.00L509.80,211.00M507.20,201.00L512.40,201.00M507.20,211.00L512.40,211.00" fill="none" stroke="#111" stroke-width="0.85"/>
<path d="M518.86,201.00L518.86,211.00M516.26,201.00L521.46,201.00M516.26,211.00L521.46,211.00" fill="none" stroke="#111" stroke-width="0.85"/>
<path d="M527.92,200.50L527.92,210.50M525.32,200.50L530.52,200.50M525.32,210.50L530.52,210.50" fill="none" stroke="#111" stroke-width="0.85"/>
<path d="M536.98,200.50L536.98,210.50M534.38,200.50L539.58,200.50M534.38,210.50L539.58,210.50" fill="none" stroke="#111" stroke-width="0.85"/>
<path d="M546.04,200.00L546.04,210.00M543.44,200.00L548.64,200.00M543.44,210.00L548.64,210.00" fill="none" stroke="#111" stroke-width="0.85"/>
<path d="M555.10,200.00L555.10,210.00M552.50,200.00L557.70,200.00M552.50,210.00L557.70,210.00" fill="none" stroke="#111" stroke-width="0.85"/>
<path d="M564.16,200.00L564.16,210.00M561.56,200.00L566.76,200.00M561.56,210.00L566.76,210.00" fill="none" stroke="#111" stroke-width="0.85"/>
<path d="M573.22,200.00L573.22,210.00M570.62,200.00L575.82,200.00M570.62,210.00L575.82,210.00" fill="none" stroke="#111" stroke-width="0.85"/>
<path d="M582.28,200.00L582.28,210.00M579.68,200.00L584.88,200.00M579.68,210.00L584.88,210.00" fill="none" stroke="#111" stroke-width="0.85"/>
<path d="M482.62,200.30L482.62,216.70M480.02,200.30L485.22,200.30M480.02,216.70L485.22,216.70" fill="none" stroke="#111" stroke-width="0.85"/>
<path d="M491.68,202.00L491.68,218.40M489.08,202.00L494.28,202.00M489.08,218.40L494.28,218.40" fill="none" stroke="#111" stroke-width="0.85"/>
<path d="M500.74,202.50L500.74,218.90M498.14,202.50L503.34,202.50M498.14,218.90L503.34,218.90" fill="none" stroke="#111" stroke-width="0.85"/>
<path d="M509.80,202.30L509.80,218.70M507.20,202.30L512.40,202.30M507.20,218.70L512.40,218.70" fill="none" stroke="#111" stroke-width="0.85"/>
<path d="M518.86,202.50L518.86,218.90M516.26,202.50L521.46,202.50M516.26,218.90L521.46,218.90" fill="none" stroke="#111" stroke-width="0.85"/>
<path d="M527.92,203.00L527.92,219.40M525.32,203.00L530.52,203.00M525.32,219.40L530.52,219.40" fill="none" stroke="#111" stroke-width="0.85"/>
<path d="M536.98,203.30L536.98,219.70M534.38,203.30L539.58,203.30M534.38,219.70L539.58,219.70" fill="none" stroke="#111" stroke-width="0.85"/>
<path d="M546.04,203.50L546.04,219.90M543.44,203.50L548.64,203.50M543.44,219.90L548.64,219.90" fill="none" stroke="#111" stroke-width="0.85"/>
<path d="M555.10,203.50L555.10,219.90M552.50,203.50L557.70,203.50M552.50,219.90L557.70,219.90" fill="none" stroke="#111" stroke-width="0.85"/>
<path d="M564.16,203.50L564.16,219.90M561.56,203.50L566.76,203.50M561.56,219.90L566.76,219.90" fill="none" stroke="#111" stroke-width="0.85"/>
<path d="M573.22,203.50L573.22,219.90M570.62,203.50L575.82,203.50M570.62,219.90L575.82,219.90" fill="none" stroke="#111" stroke-width="0.85"/>
<path d="M582.28,203.50L582.28,219.90M579.68,203.50L584.88,203.50M579.68,219.90L584.88,219.90" fill="none" stroke="#111" stroke-width="0.85"/>
<rect x="371.15" y="183.25" width="5.50" height="5.50" fill="#111" stroke="#111" stroke-width="0.9"/>
<rect x="380.21" y="175.25" width="5.50" height="5.50" fill="#111" stroke="#111" stroke-width="0.9"/>
<rect x="389.27" y="172.55" width="5.50" height="5.50" fill="#111" stroke="#111" stroke-width="0.9"/>
<rect x="398.33" y="169.75" width="5.50" height="5.50" fill="#111" stroke="#111" stroke-width="0.9"/>
<rect x="407.39" y="166.05" width="5.50" height="5.50" fill="#111" stroke="#111" stroke-width="0.9"/>
<rect x="416.45" y="160.35" width="5.50" height="5.50" fill="#111" stroke="#111" stroke-width="0.9"/>
<rect x="425.51" y="152.25" width="5.50" height="5.50" fill="#111" stroke="#111" stroke-width="0.9"/>
<rect x="434.57" y="144.05" width="5.50" height="5.50" fill="#111" stroke="#111" stroke-width="0.9"/>
<rect x="443.63" y="136.75" width="5.50" height="5.50" fill="#111" stroke="#111" stroke-width="0.9"/>
<rect x="452.69" y="130.25" width="5.50" height="5.50" fill="#111" stroke="#111" stroke-width="0.9"/>
<rect x="461.75" y="123.75" width="5.50" height="5.50" fill="#111" stroke="#111" stroke-width="0.9"/>
<rect x="470.81" y="121.75" width="5.50" height="5.50" fill="#111" stroke="#111" stroke-width="0.9"/>
<circle cx="373.90" cy="186.00" r="2.85" fill="#111" stroke="#111" stroke-width="0.9"/>
<circle cx="382.96" cy="178.10" r="2.85" fill="#111" stroke="#111" stroke-width="0.9"/>
<circle cx="392.02" cy="175.40" r="2.85" fill="#111" stroke="#111" stroke-width="0.9"/>
<circle cx="401.08" cy="172.60" r="2.85" fill="#111" stroke="#111" stroke-width="0.9"/>
<circle cx="410.14" cy="168.90" r="2.85" fill="#111" stroke="#111" stroke-width="0.9"/>
<circle cx="419.20" cy="163.20" r="2.85" fill="#111" stroke="#111" stroke-width="0.9"/>
<circle cx="428.26" cy="155.10" r="2.85" fill="#111" stroke="#111" stroke-width="0.9"/>
<circle cx="437.32" cy="146.90" r="2.85" fill="#111" stroke="#111" stroke-width="0.9"/>
<circle cx="446.38" cy="139.60" r="2.85" fill="#111" stroke="#111" stroke-width="0.9"/>
<circle cx="455.44" cy="133.10" r="2.85" fill="#111" stroke="#111" stroke-width="0.9"/>
<circle cx="464.50" cy="126.60" r="2.85" fill="#111" stroke="#111" stroke-width="0.9"/>
<circle cx="473.56" cy="124.50" r="2.85" fill="#111" stroke="#111" stroke-width="0.9"/>
<path d="M373.90,182.90L377.00,186.00L373.90,189.10L370.80,186.00Z" fill="#111" stroke="#111" stroke-width="0.9"/>
<path d="M382.96,175.10L386.06,178.20L382.96,181.30L379.86,178.20Z" fill="#111" stroke="#111" stroke-width="0.9"/>
<path d="M392.02,172.40L395.12,175.50L392.02,178.60L388.92,175.50Z" fill="#111" stroke="#111" stroke-width="0.9"/>
<path d="M401.08,169.60L404.18,172.70L401.08,175.80L397.98,172.70Z" fill="#111" stroke="#111" stroke-width="0.9"/>
<path d="M410.14,165.90L413.24,169.00L410.14,172.10L407.04,169.00Z" fill="#111" stroke="#111" stroke-width="0.9"/>
<path d="M419.20,160.20L422.30,163.30L419.20,166.40L416.10,163.30Z" fill="#111" stroke="#111" stroke-width="0.9"/>
<path d="M428.26,152.10L431.36,155.20L428.26,158.30L425.16,155.20Z" fill="#111" stroke="#111" stroke-width="0.9"/>
<path d="M437.32,143.90L440.42,147.00L437.32,150.10L434.22,147.00Z" fill="#111" stroke="#111" stroke-width="0.9"/>
<path d="M446.38,136.60L449.48,139.70L446.38,142.80L443.28,139.70Z" fill="#111" stroke="#111" stroke-width="0.9"/>
<path d="M455.44,130.10L458.54,133.20L455.44,136.30L452.34,133.20Z" fill="#111" stroke="#111" stroke-width="0.9"/>
<path d="M464.50,123.60L467.60,126.70L464.50,129.80L461.40,126.70Z" fill="#111" stroke="#111" stroke-width="0.9"/>
<path d="M473.56,121.40L476.66,124.50L473.56,127.60L470.46,124.50Z" fill="#111" stroke="#111" stroke-width="0.9"/>
<rect x="371.15" y="183.25" width="5.50" height="5.50" fill="#111" stroke="#111" stroke-width="0.9"/>
<rect x="380.21" y="175.25" width="5.50" height="5.50" fill="#111" stroke="#111" stroke-width="0.9"/>
<rect x="389.27" y="172.55" width="5.50" height="5.50" fill="#111" stroke="#111" stroke-width="0.9"/>
<rect x="398.33" y="169.75" width="5.50" height="5.50" fill="#111" stroke="#111" stroke-width="0.9"/>
<rect x="407.39" y="166.05" width="5.50" height="5.50" fill="#111" stroke="#111" stroke-width="0.9"/>
<rect x="416.45" y="160.35" width="5.50" height="5.50" fill="#111" stroke="#111" stroke-width="0.9"/>
<rect x="425.51" y="152.25" width="5.50" height="5.50" fill="#111" stroke="#111" stroke-width="0.9"/>
<rect x="434.57" y="144.05" width="5.50" height="5.50" fill="#111" stroke="#111" stroke-width="0.9"/>
<rect x="443.63" y="136.75" width="5.50" height="5.50" fill="#111" stroke="#111" stroke-width="0.9"/>
<rect x="452.69" y="130.25" width="5.50" height="5.50" fill="#111" stroke="#111" stroke-width="0.9"/>
<rect x="461.75" y="123.75" width="5.50" height="5.50" fill="#111" stroke="#111" stroke-width="0.9"/>
<rect x="470.81" y="121.75" width="5.50" height="5.50" fill="#111" stroke="#111" stroke-width="0.9"/>
<path d="M373.90,183.40L376.90,188.60L370.90,188.60Z" fill="#111" stroke="#111" stroke-width="0.9"/>
<path d="M382.96,175.50L385.96,180.70L379.96,180.70Z" fill="#111" stroke="#111" stroke-width="0.9"/>
<path d="M392.02,172.80L395.02,178.00L389.02,178.00Z" fill="#111" stroke="#111" stroke-width="0.9"/>
<path d="M401.08,170.00L404.08,175.20L398.08,175.20Z" fill="#111" stroke="#111" stroke-width="0.9"/>
<path d="M410.14,166.30L413.14,171.50L407.14,171.50Z" fill="#111" stroke="#111" stroke-width="0.9"/>
<path d="M419.20,160.60L422.20,165.80L416.20,165.80Z" fill="#111" stroke="#111" stroke-width="0.9"/>
<path d="M428.26,152.50L431.26,157.70L425.26,157.70Z" fill="#111" stroke="#111" stroke-width="0.9"/>
<path d="M437.32,144.30L440.32,149.50L434.32,149.50Z" fill="#111" stroke="#111" stroke-width="0.9"/>
<path d="M446.38,137.00L449.38,142.20L443.38,142.20Z" fill="#111" stroke="#111" stroke-width="0.9"/>
<path d="M455.44,130.50L458.44,135.70L452.44,135.70Z" fill="#111" stroke="#111" stroke-width="0.9"/>
<path d="M464.50,124.00L467.50,129.20L461.50,129.20Z" fill="#111" stroke="#111" stroke-width="0.9"/>
<path d="M473.56,121.90L476.56,127.10L470.56,127.10Z" fill="#111" stroke="#111" stroke-width="0.9"/>
<circle cx="373.90" cy="186.00" r="2.85" fill="#111" stroke="#111" stroke-width="0.9"/>
<circle cx="382.96" cy="178.20" r="2.85" fill="#111" stroke="#111" stroke-width="0.9"/>
<circle cx="392.02" cy="175.50" r="2.85" fill="#111" stroke="#111" stroke-width="0.9"/>
<circle cx="401.08" cy="172.70" r="2.85" fill="#111" stroke="#111" stroke-width="0.9"/>
<circle cx="410.14" cy="169.00" r="2.85" fill="#111" stroke="#111" stroke-width="0.9"/>
<circle cx="419.20" cy="163.30" r="2.85" fill="#111" stroke="#111" stroke-width="0.9"/>
<circle cx="428.26" cy="155.20" r="2.85" fill="#111" stroke="#111" stroke-width="0.9"/>
<circle cx="437.32" cy="147.00" r="2.85" fill="#111" stroke="#111" stroke-width="0.9"/>
<circle cx="446.38" cy="139.70" r="2.85" fill="#111" stroke="#111" stroke-width="0.9"/>
<circle cx="455.44" cy="133.20" r="2.85" fill="#111" stroke="#111" stroke-width="0.9"/>
<circle cx="464.50" cy="126.70" r="2.85" fill="#111" stroke="#111" stroke-width="0.9"/>
<circle cx="473.56" cy="124.50" r="2.85" fill="#111" stroke="#111" stroke-width="0.9"/>
<path d="M373.90,182.90L377.00,186.00L373.90,189.10L370.80,186.00Z" fill="#111" stroke="#111" stroke-width="0.9"/>
<path d="M382.96,175.20L386.06,178.30L382.96,181.40L379.86,178.30Z" fill="#111" stroke="#111" stroke-width="0.9"/>
<path d="M392.02,172.50L395.12,175.60L392.02,178.70L388.92,175.60Z" fill="#111" stroke="#111" stroke-width="0.9"/>
<path d="M401.08,169.70L404.18,172.80L401.08,175.90L397.98,172.80Z" fill="#111" stroke="#111" stroke-width="0.9"/>
<path d="M410.14,166.00L413.24,169.10L410.14,172.20L407.04,169.10Z" fill="#111" stroke="#111" stroke-width="0.9"/>
<path d="M419.20,160.30L422.30,163.40L419.20,166.50L416.10,163.40Z" fill="#111" stroke="#111" stroke-width="0.9"/>
<path d="M428.26,152.20L431.36,155.30L428.26,158.40L425.16,155.30Z" fill="#111" stroke="#111" stroke-width="0.9"/>
<path d="M437.32,144.00L440.42,147.10L437.32,150.20L434.22,147.10Z" fill="#111" stroke="#111" stroke-width="0.9"/>
<path d="M446.38,136.70L449.48,139.80L446.38,142.90L443.28,139.80Z" fill="#111" stroke="#111" stroke-width="0.9"/>
<path d="M455.44,130.20L458.54,133.30L455.44,136.40L452.34,133.30Z" fill="#111" stroke="#111" stroke-width="0.9"/>
<path d="M464.50,123.70L467.60,126.80L464.50,129.90L461.40,126.80Z" fill="#111" stroke="#111" stroke-width="0.9"/>
<path d="M473.56,121.40L476.66,124.50L473.56,127.60L470.46,124.50Z" fill="#111" stroke="#111" stroke-width="0.9"/>
<path d="M373.90,183.40L376.90,188.60L370.90,188.60Z" fill="#fff" stroke="#111" stroke-width="0.9"/>
<path d="M382.96,179.40L385.96,184.60L379.96,184.60Z" fill="#fff" stroke="#111" stroke-width="0.9"/>
<path d="M392.02,176.70L395.02,181.90L389.02,181.90Z" fill="#fff" stroke="#111" stroke-width="0.9"/>
<path d="M401.08,173.90L404.08,179.10L398.08,179.10Z" fill="#fff" stroke="#111" stroke-width="0.9"/>
<path d="M410.14,170.20L413.14,175.40L407.14,175.40Z" fill="#fff" stroke="#111" stroke-width="0.9"/>
<path d="M419.20,164.50L422.20,169.70L416.20,169.70Z" fill="#fff" stroke="#111" stroke-width="0.9"/>
<path d="M428.26,156.40L431.26,161.60L425.26,161.60Z" fill="#fff" stroke="#111" stroke-width="0.9"/>
<path d="M437.32,148.20L440.32,153.40L434.32,153.40Z" fill="#fff" stroke="#111" stroke-width="0.9"/>
<path d="M446.38,140.90L449.38,146.10L443.38,146.10Z" fill="#fff" stroke="#111" stroke-width="0.9"/>
<path d="M455.44,134.40L458.44,139.60L452.44,139.60Z" fill="#fff" stroke="#111" stroke-width="0.9"/>
<path d="M464.50,127.90L467.50,133.10L461.50,133.10Z" fill="#fff" stroke="#111" stroke-width="0.9"/>
<path d="M473.56,121.90L476.56,127.10L470.56,127.10Z" fill="#fff" stroke="#111" stroke-width="0.9"/>
<circle cx="373.90" cy="186.00" r="2.85" fill="#fff" stroke="#111" stroke-width="0.9"/>
<circle cx="382.96" cy="182.00" r="2.85" fill="#fff" stroke="#111" stroke-width="0.9"/>
<circle cx="392.02" cy="179.30" r="2.85" fill="#fff" stroke="#111" stroke-width="0.9"/>
<circle cx="401.08" cy="176.50" r="2.85" fill="#fff" stroke="#111" stroke-width="0.9"/>
<circle cx="410.14" cy="172.80" r="2.85" fill="#fff" stroke="#111" stroke-width="0.9"/>
<circle cx="419.20" cy="167.10" r="2.85" fill="#fff" stroke="#111" stroke-width="0.9"/>
<circle cx="428.26" cy="159.00" r="2.85" fill="#fff" stroke="#111" stroke-width="0.9"/>
<circle cx="437.32" cy="150.80" r="2.85" fill="#fff" stroke="#111" stroke-width="0.9"/>
<circle cx="446.38" cy="143.50" r="2.85" fill="#fff" stroke="#111" stroke-width="0.9"/>
<circle cx="455.44" cy="137.00" r="2.85" fill="#fff" stroke="#111" stroke-width="0.9"/>
<circle cx="464.50" cy="130.50" r="2.85" fill="#fff" stroke="#111" stroke-width="0.9"/>
<circle cx="473.56" cy="124.50" r="2.85" fill="#fff" stroke="#111" stroke-width="0.9"/>
<path d="M373.90,182.90L377.00,186.00L373.90,189.10L370.80,186.00Z" fill="#fff" stroke="#111" stroke-width="0.9"/>
<path d="M382.96,178.90L386.06,182.00L382.96,185.10L379.86,182.00Z" fill="#fff" stroke="#111" stroke-width="0.9"/>
<path d="M392.02,176.20L395.12,179.30L392.02,182.40L388.92,179.30Z" fill="#fff" stroke="#111" stroke-width="0.9"/>
<path d="M401.08,173.40L404.18,176.50L401.08,179.60L397.98,176.50Z" fill="#fff" stroke="#111" stroke-width="0.9"/>
<path d="M410.14,169.70L413.24,172.80L410.14,175.90L407.04,172.80Z" fill="#fff" stroke="#111" stroke-width="0.9"/>
<path d="M419.20,164.00L422.30,167.10L419.20,170.20L416.10,167.10Z" fill="#fff" stroke="#111" stroke-width="0.9"/>
<path d="M428.26,155.90L431.36,159.00L428.26,162.10L425.16,159.00Z" fill="#fff" stroke="#111" stroke-width="0.9"/>
<path d="M437.32,147.70L440.42,150.80L437.32,153.90L434.22,150.80Z" fill="#fff" stroke="#111" stroke-width="0.9"/>
<path d="M446.38,140.40L449.48,143.50L446.38,146.60L443.28,143.50Z" fill="#fff" stroke="#111" stroke-width="0.9"/>
<path d="M455.44,133.90L458.54,137.00L455.44,140.10L452.34,137.00Z" fill="#fff" stroke="#111" stroke-width="0.9"/>
<path d="M464.50,127.40L467.60,130.50L464.50,133.60L461.40,130.50Z" fill="#fff" stroke="#111" stroke-width="0.9"/>
<path d="M473.56,121.40L476.66,124.50L473.56,127.60L470.46,124.50Z" fill="#fff" stroke="#111" stroke-width="0.9"/>
<rect x="371.15" y="183.25" width="5.50" height="5.50" fill="#fff" stroke="#111" stroke-width="0.9"/>
<rect x="380.21" y="178.25" width="5.50" height="5.50" fill="#fff" stroke="#111" stroke-width="0.9"/>
<rect x="389.27" y="175.55" width="5.50" height="5.50" fill="#fff" stroke="#111" stroke-width="0.9"/>
<rect x="398.33" y="172.75" width="5.50" height="5.50" fill="#fff" stroke="#111" stroke-width="0.9"/>
<rect x="407.39" y="169.05" width="5.50" height="5.50" fill="#fff" stroke="#111" stroke-width="0.9"/>
<rect x="416.45" y="163.35" width="5.50" height="5.50" fill="#fff" stroke="#111" stroke-width="0.9"/>
<rect x="425.51" y="155.25" width="5.50" height="5.50" fill="#fff" stroke="#111" stroke-width="0.9"/>
<rect x="434.57" y="147.05" width="5.50" height="5.50" fill="#fff" stroke="#111" stroke-width="0.9"/>
<rect x="443.63" y="139.75" width="5.50" height="5.50" fill="#fff" stroke="#111" stroke-width="0.9"/>
<rect x="452.69" y="133.25" width="5.50" height="5.50" fill="#fff" stroke="#111" stroke-width="0.9"/>
<rect x="461.75" y="126.75" width="5.50" height="5.50" fill="#fff" stroke="#111" stroke-width="0.9"/>
<rect x="470.81" y="121.75" width="5.50" height="5.50" fill="#fff" stroke="#111" stroke-width="0.9"/>
<path d="M371.10,183.20L376.70,188.80M376.70,183.20L371.10,188.80" fill="none" stroke="#111" stroke-width="1"/>
<path d="M380.16,177.20L385.76,182.80M385.76,177.20L380.16,182.80" fill="none" stroke="#111" stroke-width="1"/>
<path d="M389.22,174.50L394.82,180.10M394.82,174.50L389.22,180.10" fill="none" stroke="#111" stroke-width="1"/>
<path d="M398.28,171.70L403.88,177.30M403.88,171.70L398.28,177.30" fill="none" stroke="#111" stroke-width="1"/>
<path d="M407.34,168.00L412.94,173.60M412.94,168.00L407.34,173.60" fill="none" stroke="#111" stroke-width="1"/>
<path d="M416.40,162.30L422.00,167.90M422.00,162.30L416.40,167.90" fill="none" stroke="#111" stroke-width="1"/>
<path d="M425.46,154.20L431.06,159.80M431.06,154.20L425.46,159.80" fill="none" stroke="#111" stroke-width="1"/>
<path d="M434.52,146.00L440.12,151.60M440.12,146.00L434.52,151.60" fill="none" stroke="#111" stroke-width="1"/>
<path d="M443.58,138.70L449.18,144.30M449.18,138.70L443.58,144.30" fill="none" stroke="#111" stroke-width="1"/>
<path d="M452.64,132.20L458.24,137.80M458.24,132.20L452.64,137.80" fill="none" stroke="#111" stroke-width="1"/>
<path d="M461.70,125.70L467.30,131.30M467.30,125.70L461.70,131.30" fill="none" stroke="#111" stroke-width="1"/>
<path d="M470.76,121.70L476.36,127.30M476.36,121.70L470.76,127.30" fill="none" stroke="#111" stroke-width="1"/>
<path d="M371.10,183.20L376.70,188.80M376.70,183.20L371.10,188.80" fill="none" stroke="#111" stroke-width="1"/>
<path d="M373.90,182.40L373.90,189.60M371.50,182.40L376.30,182.40M371.50,189.60L376.30,189.60" fill="none" stroke="#111" stroke-width="0.85"/>
<path d="M380.16,177.20L385.76,182.80M385.76,177.20L380.16,182.80" fill="none" stroke="#111" stroke-width="1"/>
<path d="M382.96,176.40L382.96,183.60M380.56,176.40L385.36,176.40M380.56,183.60L385.36,183.60" fill="none" stroke="#111" stroke-width="0.85"/>
<path d="M389.22,174.50L394.82,180.10M394.82,174.50L389.22,180.10" fill="none" stroke="#111" stroke-width="1"/>
<path d="M392.02,173.70L392.02,180.90M389.62,173.70L394.42,173.70M389.62,180.90L394.42,180.90" fill="none" stroke="#111" stroke-width="0.85"/>
<path d="M398.28,171.70L403.88,177.30M403.88,171.70L398.28,177.30" fill="none" stroke="#111" stroke-width="1"/>
<path d="M401.08,170.90L401.08,178.10M398.68,170.90L403.48,170.90M398.68,178.10L403.48,178.10" fill="none" stroke="#111" stroke-width="0.85"/>
<path d="M407.34,168.00L412.94,173.60M412.94,168.00L407.34,173.60" fill="none" stroke="#111" stroke-width="1"/>
<path d="M410.14,167.20L410.14,174.40M407.74,167.20L412.54,167.20M407.74,174.40L412.54,174.40" fill="none" stroke="#111" stroke-width="0.85"/>
<path d="M416.40,162.30L422.00,167.90M422.00,162.30L416.40,167.90" fill="none" stroke="#111" stroke-width="1"/>
<path d="M419.20,161.50L419.20,168.70M416.80,161.50L421.60,161.50M416.80,168.70L421.60,168.70" fill="none" stroke="#111" stroke-width="0.85"/>
<path d="M425.46,154.20L431.06,159.80M431.06,154.20L425.46,159.80" fill="none" stroke="#111" stroke-width="1"/>
<path d="M428.26,153.40L428.26,160.60M425.86,153.40L430.66,153.40M425.86,160.60L430.66,160.60" fill="none" stroke="#111" stroke-width="0.85"/>
<path d="M434.52,146.00L440.12,151.60M440.12,146.00L434.52,151.60" fill="none" stroke="#111" stroke-width="1"/>
<path d="M437.32,145.20L437.32,152.40M434.92,145.20L439.72,145.20M434.92,152.40L439.72,152.40" fill="none" stroke="#111" stroke-width="0.85"/>
<path d="M443.58,138.70L449.18,144.30M449.18,138.70L443.58,144.30" fill="none" stroke="#111" stroke-width="1"/>
<path d="M446.38,137.90L446.38,145.10M443.98,137.90L448.78,137.90M443.98,145.10L448.78,145.10" fill="none" stroke="#111" stroke-width="0.85"/>
<path d="M452.64,132.20L458.24,137.80M458.24,132.20L452.64,137.80" fill="none" stroke="#111" stroke-width="1"/>
<path d="M455.44,131.40L455.44,138.60M453.04,131.40L457.84,131.40M453.04,138.60L457.84,138.60" fill="none" stroke="#111" stroke-width="0.85"/>
<path d="M461.70,125.70L467.30,131.30M467.30,125.70L461.70,131.30" fill="none" stroke="#111" stroke-width="1"/>
<path d="M464.50,124.90L464.50,132.10M462.10,124.90L466.90,124.90M462.10,132.10L466.90,132.10" fill="none" stroke="#111" stroke-width="0.85"/>
<path d="M470.76,121.70L476.36,127.30M476.36,121.70L470.76,127.30" fill="none" stroke="#111" stroke-width="1"/>
<path d="M473.56,120.90L473.56,128.10M471.16,120.90L475.96,120.90M471.16,128.10L475.96,128.10" fill="none" stroke="#111" stroke-width="0.85"/>
<rect x="479.87" y="116.05" width="5.50" height="5.50" fill="#111" stroke="#111" stroke-width="0.9"/>
<rect x="488.93" y="116.05" width="5.50" height="5.50" fill="#111" stroke="#111" stroke-width="0.9"/>
<rect x="497.99" y="114.45" width="5.50" height="5.50" fill="#111" stroke="#111" stroke-width="0.9"/>
<rect x="507.05" y="107.35" width="5.50" height="5.50" fill="#111" stroke="#111" stroke-width="0.9"/>
<rect x="516.11" y="99.35" width="5.50" height="5.50" fill="#111" stroke="#111" stroke-width="0.9"/>
<rect x="525.17" y="92.25" width="5.50" height="5.50" fill="#111" stroke="#111" stroke-width="0.9"/>
<rect x="534.23" y="84.65" width="5.50" height="5.50" fill="#111" stroke="#111" stroke-width="0.9"/>
<rect x="543.29" y="80.75" width="5.50" height="5.50" fill="#111" stroke="#111" stroke-width="0.9"/>
<rect x="552.35" y="77.15" width="5.50" height="5.50" fill="#111" stroke="#111" stroke-width="0.9"/>
<rect x="561.41" y="74.85" width="5.50" height="5.50" fill="#111" stroke="#111" stroke-width="0.9"/>
<rect x="570.47" y="71.75" width="5.50" height="5.50" fill="#111" stroke="#111" stroke-width="0.9"/>
<rect x="579.53" y="67.15" width="5.50" height="5.50" fill="#111" stroke="#111" stroke-width="0.9"/>
<circle cx="482.62" cy="126.40" r="2.85" fill="#111" stroke="#111" stroke-width="0.9"/>
<circle cx="491.68" cy="127.50" r="2.85" fill="#111" stroke="#111" stroke-width="0.9"/>
<circle cx="500.74" cy="124.80" r="2.85" fill="#111" stroke="#111" stroke-width="0.9"/>
<circle cx="509.80" cy="118.50" r="2.85" fill="#111" stroke="#111" stroke-width="0.9"/>
<circle cx="518.86" cy="109.70" r="2.85" fill="#111" stroke="#111" stroke-width="0.9"/>
<circle cx="527.92" cy="102.80" r="2.85" fill="#111" stroke="#111" stroke-width="0.9"/>
<circle cx="536.98" cy="95.50" r="2.85" fill="#111" stroke="#111" stroke-width="0.9"/>
<circle cx="546.04" cy="89.00" r="2.85" fill="#111" stroke="#111" stroke-width="0.9"/>
<circle cx="555.10" cy="85.10" r="2.85" fill="#111" stroke="#111" stroke-width="0.9"/>
<circle cx="564.16" cy="84.00" r="2.85" fill="#111" stroke="#111" stroke-width="0.9"/>
<circle cx="573.22" cy="84.00" r="2.85" fill="#111" stroke="#111" stroke-width="0.9"/>
<circle cx="582.28" cy="81.70" r="2.85" fill="#111" stroke="#111" stroke-width="0.9"/>
<path d="M482.62,126.90L485.72,130.00L482.62,133.10L479.52,130.00Z" fill="#111" stroke="#111" stroke-width="0.9"/>
<path d="M491.68,127.90L494.78,131.00L491.68,134.10L488.58,131.00Z" fill="#111" stroke="#111" stroke-width="0.9"/>
<path d="M500.74,125.90L503.84,129.00L500.74,132.10L497.64,129.00Z" fill="#111" stroke="#111" stroke-width="0.9"/>
<path d="M509.80,119.10L512.90,122.20L509.80,125.30L506.70,122.20Z" fill="#111" stroke="#111" stroke-width="0.9"/>
<path d="M518.86,113.30L521.96,116.40L518.86,119.50L515.76,116.40Z" fill="#111" stroke="#111" stroke-width="0.9"/>
<path d="M527.92,105.90L531.02,109.00L527.92,112.10L524.82,109.00Z" fill="#111" stroke="#111" stroke-width="0.9"/>
<path d="M536.98,98.50L540.08,101.60L536.98,104.70L533.88,101.60Z" fill="#111" stroke="#111" stroke-width="0.9"/>
<path d="M546.04,92.20L549.14,95.30L546.04,98.40L542.94,95.30Z" fill="#111" stroke="#111" stroke-width="0.9"/>
<path d="M555.10,88.80L558.20,91.90L555.10,95.00L552.00,91.90Z" fill="#111" stroke="#111" stroke-width="0.9"/>
<path d="M564.16,88.10L567.26,91.20L564.16,94.30L561.06,91.20Z" fill="#111" stroke="#111" stroke-width="0.9"/>
<path d="M573.22,88.80L576.32,91.90L573.22,95.00L570.12,91.90Z" fill="#111" stroke="#111" stroke-width="0.9"/>
<path d="M582.28,88.80L585.38,91.90L582.28,95.00L579.18,91.90Z" fill="#111" stroke="#111" stroke-width="0.9"/>
<rect x="479.87" y="138.05" width="5.50" height="5.50" fill="#fff" stroke="#111" stroke-width="0.9"/>
<rect x="488.93" y="140.35" width="5.50" height="5.50" fill="#fff" stroke="#111" stroke-width="0.9"/>
<rect x="497.99" y="140.35" width="5.50" height="5.50" fill="#fff" stroke="#111" stroke-width="0.9"/>
<rect x="507.05" y="136.85" width="5.50" height="5.50" fill="#fff" stroke="#111" stroke-width="0.9"/>
<rect x="516.11" y="132.15" width="5.50" height="5.50" fill="#fff" stroke="#111" stroke-width="0.9"/>
<rect x="525.17" y="124.85" width="5.50" height="5.50" fill="#fff" stroke="#111" stroke-width="0.9"/>
<rect x="534.23" y="118.95" width="5.50" height="5.50" fill="#fff" stroke="#111" stroke-width="0.9"/>
<rect x="543.29" y="114.05" width="5.50" height="5.50" fill="#fff" stroke="#111" stroke-width="0.9"/>
<rect x="552.35" y="108.45" width="5.50" height="5.50" fill="#fff" stroke="#111" stroke-width="0.9"/>
<rect x="561.41" y="104.45" width="5.50" height="5.50" fill="#fff" stroke="#111" stroke-width="0.9"/>
<rect x="570.47" y="101.05" width="5.50" height="5.50" fill="#fff" stroke="#111" stroke-width="0.9"/>
<rect x="579.53" y="99.95" width="5.50" height="5.50" fill="#fff" stroke="#111" stroke-width="0.9"/>
<path d="M482.62,143.40L485.62,148.60L479.62,148.60Z" fill="#fff" stroke="#111" stroke-width="0.9"/>
<path d="M491.68,145.20L494.68,150.40L488.68,150.40Z" fill="#fff" stroke="#111" stroke-width="0.9"/>
<path d="M500.74,145.00L503.74,150.20L497.74,150.20Z" fill="#fff" stroke="#111" stroke-width="0.9"/>
<path d="M509.80,142.90L512.80,148.10L506.80,148.10Z" fill="#fff" stroke="#111" stroke-width="0.9"/>
<path d="M518.86,144.40L521.86,149.60L515.86,149.60Z" fill="#fff" stroke="#111" stroke-width="0.9"/>
<path d="M527.92,141.10L530.92,146.30L524.92,146.30Z" fill="#fff" stroke="#111" stroke-width="0.9"/>
<path d="M536.98,136.20L539.98,141.40L533.98,141.40Z" fill="#fff" stroke="#111" stroke-width="0.9"/>
<path d="M546.04,131.80L549.04,137.00L543.04,137.00Z" fill="#fff" stroke="#111" stroke-width="0.9"/>
<path d="M555.10,128.10L558.10,133.30L552.10,133.30Z" fill="#fff" stroke="#111" stroke-width="0.9"/>
<path d="M564.16,125.00L567.16,130.20L561.16,130.20Z" fill="#fff" stroke="#111" stroke-width="0.9"/>
<path d="M573.22,121.30L576.22,126.50L570.22,126.50Z" fill="#fff" stroke="#111" stroke-width="0.9"/>
<path d="M582.28,118.40L585.28,123.60L579.28,123.60Z" fill="#fff" stroke="#111" stroke-width="0.9"/>
<circle cx="482.62" cy="151.30" r="2.85" fill="#fff" stroke="#111" stroke-width="0.9"/>
<circle cx="491.68" cy="154.40" r="2.85" fill="#fff" stroke="#111" stroke-width="0.9"/>
<circle cx="500.74" cy="154.40" r="2.85" fill="#fff" stroke="#111" stroke-width="0.9"/>
<circle cx="509.80" cy="152.50" r="2.85" fill="#fff" stroke="#111" stroke-width="0.9"/>
<circle cx="518.86" cy="153.00" r="2.85" fill="#fff" stroke="#111" stroke-width="0.9"/>
<circle cx="527.92" cy="156.50" r="2.85" fill="#fff" stroke="#111" stroke-width="0.9"/>
<circle cx="536.98" cy="156.80" r="2.85" fill="#fff" stroke="#111" stroke-width="0.9"/>
<circle cx="546.04" cy="156.30" r="2.85" fill="#fff" stroke="#111" stroke-width="0.9"/>
<circle cx="555.10" cy="154.80" r="2.85" fill="#fff" stroke="#111" stroke-width="0.9"/>
<circle cx="564.16" cy="154.50" r="2.85" fill="#fff" stroke="#111" stroke-width="0.9"/>
<circle cx="573.22" cy="154.10" r="2.85" fill="#fff" stroke="#111" stroke-width="0.9"/>
<circle cx="582.28" cy="153.40" r="2.85" fill="#fff" stroke="#111" stroke-width="0.9"/>
<path d="M482.62,157.40L485.72,160.50L482.62,163.60L479.52,160.50Z" fill="#fff" stroke="#111" stroke-width="0.9"/>
<path d="M491.68,158.30L494.78,161.40L491.68,164.50L488.58,161.40Z" fill="#fff" stroke="#111" stroke-width="0.9"/>
<path d="M500.74,159.10L503.84,162.20L500.74,165.30L497.64,162.20Z" fill="#fff" stroke="#111" stroke-width="0.9"/>
<path d="M509.80,158.30L512.90,161.40L509.80,164.50L506.70,161.40Z" fill="#fff" stroke="#111" stroke-width="0.9"/>
<path d="M518.86,158.40L521.96,161.50L518.86,164.60L515.76,161.50Z" fill="#fff" stroke="#111" stroke-width="0.9"/>
<path d="M527.92,160.50L531.02,163.60L527.92,166.70L524.82,163.60Z" fill="#fff" stroke="#111" stroke-width="0.9"/>
<path d="M536.98,163.10L540.08,166.20L536.98,169.30L533.88,166.20Z" fill="#fff" stroke="#111" stroke-width="0.9"/>
<path d="M546.04,165.20L549.14,168.30L546.04,171.40L542.94,168.30Z" fill="#fff" stroke="#111" stroke-width="0.9"/>
<path d="M555.10,166.70L558.20,169.80L555.10,172.90L552.00,169.80Z" fill="#fff" stroke="#111" stroke-width="0.9"/>
<path d="M564.16,167.00L567.26,170.10L564.16,173.20L561.06,170.10Z" fill="#fff" stroke="#111" stroke-width="0.9"/>
<path d="M573.22,167.30L576.32,170.40L573.22,173.50L570.12,170.40Z" fill="#fff" stroke="#111" stroke-width="0.9"/>
<path d="M582.28,167.70L585.38,170.80L582.28,173.90L579.18,170.80Z" fill="#fff" stroke="#111" stroke-width="0.9"/>
<path d="M479.82,162.90L485.42,168.50M485.42,162.90L479.82,168.50" fill="none" stroke="#111" stroke-width="1"/>
<path d="M488.88,163.80L494.48,169.40M494.48,163.80L488.88,169.40" fill="none" stroke="#111" stroke-width="1"/>
<path d="M497.94,164.10L503.54,169.70M503.54,164.10L497.94,169.70" fill="none" stroke="#111" stroke-width="1"/>
<path d="M507.00,164.10L512.60,169.70M512.60,164.10L507.00,169.70" fill="none" stroke="#111" stroke-width="1"/>
<path d="M516.06,165.00L521.66,170.60M521.66,165.00L516.06,170.60" fill="none" stroke="#111" stroke-width="1"/>
<path d="M525.12,166.50L530.72,172.10M530.72,166.50L525.12,172.10" fill="none" stroke="#111" stroke-width="1"/>
<path d="M534.18,167.00L539.78,172.60M539.78,167.00L534.18,172.60" fill="none" stroke="#111" stroke-width="1"/>
<path d="M543.24,168.60L548.84,174.20M548.84,168.60L543.24,174.20" fill="none" stroke="#111" stroke-width="1"/>
<path d="M552.30,169.40L557.90,175.00M557.90,169.40L552.30,175.00" fill="none" stroke="#111" stroke-width="1"/>
<path d="M561.36,171.50L566.96,177.10M566.96,171.50L561.36,177.10" fill="none" stroke="#111" stroke-width="1"/>
<path d="M570.42,172.20L576.02,177.80M576.02,172.20L570.42,177.80" fill="none" stroke="#111" stroke-width="1"/>
<path d="M579.48,174.00L585.08,179.60M585.08,174.00L579.48,179.60" fill="none" stroke="#111" stroke-width="1"/>
<rect x="479.87" y="173.35" width="5.50" height="5.50" fill="#111" stroke="#111" stroke-width="0.9"/>
<rect x="488.93" y="174.75" width="5.50" height="5.50" fill="#111" stroke="#111" stroke-width="0.9"/>
<rect x="497.99" y="176.25" width="5.50" height="5.50" fill="#111" stroke="#111" stroke-width="0.9"/>
<rect x="507.05" y="179.75" width="5.50" height="5.50" fill="#111" stroke="#111" stroke-width="0.9"/>
<rect x="516.11" y="184.65" width="5.50" height="5.50" fill="#111" stroke="#111" stroke-width="0.9"/>
<rect x="525.17" y="188.65" width="5.50" height="5.50" fill="#111" stroke="#111" stroke-width="0.9"/>
<rect x="534.23" y="192.25" width="5.50" height="5.50" fill="#111" stroke="#111" stroke-width="0.9"/>
<rect x="543.29" y="196.25" width="5.50" height="5.50" fill="#111" stroke="#111" stroke-width="0.9"/>
<rect x="552.35" y="198.75" width="5.50" height="5.50" fill="#111" stroke="#111" stroke-width="0.9"/>
<rect x="561.41" y="200.75" width="5.50" height="5.50" fill="#111" stroke="#111" stroke-width="0.9"/>
<rect x="570.47" y="201.75" width="5.50" height="5.50" fill="#111" stroke="#111" stroke-width="0.9"/>
<rect x="579.53" y="201.75" width="5.50" height="5.50" fill="#111" stroke="#111" stroke-width="0.9"/>
<path d="M482.62,177.90L485.62,183.10L479.62,183.10Z" fill="#111" stroke="#111" stroke-width="0.9"/>
<path d="M491.68,179.40L494.68,184.60L488.68,184.60Z" fill="#111" stroke="#111" stroke-width="0.9"/>
<path d="M500.74,183.40L503.74,188.60L497.74,188.60Z" fill="#111" stroke="#111" stroke-width="0.9"/>
<path d="M509.80,189.20L512.80,194.40L506.80,194.40Z" fill="#111" stroke="#111" stroke-width="0.9"/>
<path d="M518.86,194.40L521.86,199.60L515.86,199.60Z" fill="#111" stroke="#111" stroke-width="0.9"/>
<path d="M527.92,197.40L530.92,202.60L524.92,202.60Z" fill="#111" stroke="#111" stroke-width="0.9"/>
<path d="M536.98,199.40L539.98,204.60L533.98,204.60Z" fill="#111" stroke="#111" stroke-width="0.9"/>
<path d="M546.04,200.90L549.04,206.10L543.04,206.10Z" fill="#111" stroke="#111" stroke-width="0.9"/>
<path d="M555.10,201.40L558.10,206.60L552.10,206.60Z" fill="#111" stroke="#111" stroke-width="0.9"/>
<path d="M564.16,201.90L567.16,207.10L561.16,207.10Z" fill="#111" stroke="#111" stroke-width="0.9"/>
<path d="M573.22,202.40L576.22,207.60L570.22,207.60Z" fill="#111" stroke="#111" stroke-width="0.9"/>
<path d="M582.28,202.40L585.28,207.60L579.28,207.60Z" fill="#111" stroke="#111" stroke-width="0.9"/>
<circle cx="482.62" cy="185.20" r="2.85" fill="#111" stroke="#111" stroke-width="0.9"/>
<circle cx="491.68" cy="188.50" r="2.85" fill="#111" stroke="#111" stroke-width="0.9"/>
<circle cx="500.74" cy="194.70" r="2.85" fill="#111" stroke="#111" stroke-width="0.9"/>
<circle cx="509.80" cy="198.40" r="2.85" fill="#111" stroke="#111" stroke-width="0.9"/>
<circle cx="518.86" cy="201.50" r="2.85" fill="#111" stroke="#111" stroke-width="0.9"/>
<circle cx="527.92" cy="201.50" r="2.85" fill="#111" stroke="#111" stroke-width="0.9"/>
<circle cx="536.98" cy="203.50" r="2.85" fill="#111" stroke="#111" stroke-width="0.9"/>
<circle cx="546.04" cy="204.00" r="2.85" fill="#111" stroke="#111" stroke-width="0.9"/>
<circle cx="555.10" cy="204.50" r="2.85" fill="#111" stroke="#111" stroke-width="0.9"/>
<circle cx="564.16" cy="205.00" r="2.85" fill="#111" stroke="#111" stroke-width="0.9"/>
<circle cx="573.22" cy="205.00" r="2.85" fill="#111" stroke="#111" stroke-width="0.9"/>
<circle cx="582.28" cy="205.00" r="2.85" fill="#111" stroke="#111" stroke-width="0.9"/>
<path d="M482.62,192.60L485.72,195.70L482.62,198.80L479.52,195.70Z" fill="#111" stroke="#111" stroke-width="0.9"/>
<path d="M491.68,199.30L494.78,202.40L491.68,205.50L488.58,202.40Z" fill="#111" stroke="#111" stroke-width="0.9"/>
<path d="M500.74,202.20L503.84,205.30L500.74,208.40L497.64,205.30Z" fill="#111" stroke="#111" stroke-width="0.9"/>
<path d="M509.80,202.90L512.90,206.00L509.80,209.10L506.70,206.00Z" fill="#111" stroke="#111" stroke-width="0.9"/>
<path d="M518.86,202.90L521.96,206.00L518.86,209.10L515.76,206.00Z" fill="#111" stroke="#111" stroke-width="0.9"/>
<path d="M527.92,202.40L531.02,205.50L527.92,208.60L524.82,205.50Z" fill="#111" stroke="#111" stroke-width="0.9"/>
<path d="M536.98,202.40L540.08,205.50L536.98,208.60L533.88,205.50Z" fill="#111" stroke="#111" stroke-width="0.9"/>
<path d="M546.04,201.90L549.14,205.00L546.04,208.10L542.94,205.00Z" fill="#111" stroke="#111" stroke-width="0.9"/>
<path d="M555.10,201.90L558.20,205.00L555.10,208.10L552.00,205.00Z" fill="#111" stroke="#111" stroke-width="0.9"/>
<path d="M564.16,201.90L567.26,205.00L564.16,208.10L561.06,205.00Z" fill="#111" stroke="#111" stroke-width="0.9"/>
<path d="M573.22,201.90L576.32,205.00L573.22,208.10L570.12,205.00Z" fill="#111" stroke="#111" stroke-width="0.9"/>
<path d="M582.28,201.90L585.38,205.00L582.28,208.10L579.18,205.00Z" fill="#111" stroke="#111" stroke-width="0.9"/>
<path d="M479.82,205.50L485.42,211.10M485.42,205.50L479.82,211.10" fill="none" stroke="#111" stroke-width="1"/>
<path d="M488.88,207.20L494.48,212.80M494.48,207.20L488.88,212.80" fill="none" stroke="#111" stroke-width="1"/>
<path d="M497.94,207.70L503.54,213.30M503.54,207.70L497.94,213.30" fill="none" stroke="#111" stroke-width="1"/>
<path d="M507.00,207.50L512.60,213.10M512.60,207.50L507.00,213.10" fill="none" stroke="#111" stroke-width="1"/>
<path d="M516.06,207.70L521.66,213.30M521.66,207.70L516.06,213.30" fill="none" stroke="#111" stroke-width="1"/>
<path d="M525.12,208.20L530.72,213.80M530.72,208.20L525.12,213.80" fill="none" stroke="#111" stroke-width="1"/>
<path d="M534.18,208.50L539.78,214.10M539.78,208.50L534.18,214.10" fill="none" stroke="#111" stroke-width="1"/>
<path d="M543.24,208.70L548.84,214.30M548.84,208.70L543.24,214.30" fill="none" stroke="#111" stroke-width="1"/>
<path d="M552.30,208.70L557.90,214.30M557.90,208.70L552.30,214.30" fill="none" stroke="#111" stroke-width="1"/>
<path d="M561.36,208.70L566.96,214.30M566.96,208.70L561.36,214.30" fill="none" stroke="#111" stroke-width="1"/>
<path d="M570.42,208.70L576.02,214.30M576.02,208.70L570.42,214.30" fill="none" stroke="#111" stroke-width="1"/>
<path d="M579.48,208.70L585.08,214.30M585.08,208.70L579.48,214.30" fill="none" stroke="#111" stroke-width="1"/>
<path d="M260,56.70L284.5,56.70" stroke="#111" stroke-width="0.9"/>
<rect x="269.65" y="53.95" width="5.50" height="5.50" fill="#111" stroke="#111" stroke-width="0.9"/>
<text x="287.4" y="61.0" font-size="9.75" text-anchor="start" >0 mM</text>
<path d="M260,70.59L284.5,70.59" stroke="#111" stroke-width="0.9"/>
<circle cx="272.40" cy="70.59" r="2.85" fill="#111" stroke="#111" stroke-width="0.9"/>
<text x="287.4" y="74.89" font-size="9.75" text-anchor="start" >5 mM</text>
<path d="M260,84.48L284.5,84.48" stroke="#111" stroke-width="0.9"/>
<path d="M272.40,81.38L275.50,84.48L272.40,87.58L269.30,84.48Z" fill="#111" stroke="#111" stroke-width="0.9"/>
<text x="287.4" y="88.78" font-size="9.75" text-anchor="start" >10 mM</text>
<path d="M260,98.37L284.5,98.37" stroke="#111" stroke-width="0.9"/>
<rect x="269.65" y="95.62" width="5.50" height="5.50" fill="#fff" stroke="#111" stroke-width="0.9"/>
<text x="287.4" y="102.67" font-size="9.75" text-anchor="start" >20 mM</text>
<path d="M260,112.26L284.5,112.26" stroke="#111" stroke-width="0.9"/>
<path d="M272.40,109.66L275.40,114.86L269.40,114.86Z" fill="#fff" stroke="#111" stroke-width="0.9"/>
<text x="287.4" y="116.56" font-size="9.75" text-anchor="start" >30 mM</text>
<path d="M260,126.15L284.5,126.15" stroke="#111" stroke-width="0.9"/>
<circle cx="272.40" cy="126.15" r="2.85" fill="#fff" stroke="#111" stroke-width="0.9"/>
<text x="287.4" y="130.45" font-size="9.75" text-anchor="start" >40 mM</text>
<path d="M260,140.04L284.5,140.04" stroke="#111" stroke-width="0.9"/>
<path d="M272.40,136.94L275.50,140.04L272.40,143.14L269.30,140.04Z" fill="#fff" stroke="#111" stroke-width="0.9"/>
<text x="287.4" y="144.34" font-size="9.75" text-anchor="start" >60 mM</text>
<path d="M260,153.93L284.5,153.93" stroke="#111" stroke-width="0.9"/>
<path d="M269.60,151.13L275.20,156.73M275.20,151.13L269.60,156.73M272.40,150.83L272.40,157.03" fill="none" stroke="#111" stroke-width="0.85"/>
<text x="287.4" y="158.23" font-size="9.75" text-anchor="start" >80 mM</text>
<path d="M260,167.82L284.5,167.82" stroke="#111" stroke-width="0.9" stroke-dasharray="2.8,2"/>
<rect x="269.65" y="165.07" width="5.50" height="5.50" fill="#fff" stroke="#111" stroke-width="0.9"/>
<text x="287.4" y="172.12" font-size="9.75" text-anchor="start" >100 mM</text>
<path d="M260,181.71L284.5,181.71" stroke="#111" stroke-width="0.9" stroke-dasharray="2.8,2"/>
<path d="M272.40,179.11L275.40,184.31L269.40,184.31Z" fill="#fff" stroke="#111" stroke-width="0.9"/>
<text x="287.4" y="186.01" font-size="9.75" text-anchor="start" >120 mM</text>
<path d="M260,195.60L284.5,195.60" stroke="#111" stroke-width="0.9" stroke-dasharray="2.8,2"/>
<circle cx="272.40" cy="195.60" r="2.85" fill="#fff" stroke="#111" stroke-width="0.9"/>
<text x="287.4" y="199.9" font-size="9.75" text-anchor="start" >140 mM</text>
<path d="M260,209.49L284.5,209.49" stroke="#111" stroke-width="0.9" stroke-dasharray="2.8,2"/>
<path d="M272.40,206.39L275.50,209.49L272.40,212.59L269.30,209.49Z" fill="#fff" stroke="#111" stroke-width="0.9"/>
<text x="287.4" y="213.79" font-size="9.75" text-anchor="start" >160 mM</text>
<path d="M593.9,58.20L617.9,58.20" stroke="#111" stroke-width="0.9"/>
<rect x="603.25" y="55.45" width="5.50" height="5.50" fill="#111" stroke="#111" stroke-width="0.9"/>
<text x="620.6" y="62.2" font-size="9.75" text-anchor="start" >0 mM</text>
<path d="M593.9,70.68L617.9,70.68" stroke="#111" stroke-width="0.9"/>
<circle cx="606.00" cy="70.68" r="2.85" fill="#111" stroke="#111" stroke-width="0.9"/>
<text x="620.6" y="74.68" font-size="9.75" text-anchor="start" >5 mM</text>
<path d="M593.9,83.16L617.9,83.16" stroke="#111" stroke-width="0.9"/>
<path d="M606.00,80.06L609.10,83.16L606.00,86.26L602.90,83.16Z" fill="#111" stroke="#111" stroke-width="0.9"/>
<text x="620.6" y="87.16" font-size="9.75" text-anchor="start" >10 mM</text>
<path d="M593.9,95.64L617.9,95.64" stroke="#111" stroke-width="0.9"/>
<rect x="603.25" y="92.89" width="5.50" height="5.50" fill="#fff" stroke="#111" stroke-width="0.9"/>
<text x="620.6" y="99.64" font-size="9.75" text-anchor="start" >20 mM</text>
<path d="M593.9,108.12L617.9,108.12" stroke="#111" stroke-width="0.9"/>
<path d="M606.00,105.52L609.00,110.72L603.00,110.72Z" fill="#fff" stroke="#111" stroke-width="0.9"/>
<text x="620.6" y="112.12" font-size="9.75" text-anchor="start" >30 mM</text>
<path d="M593.9,120.60L617.9,120.60" stroke="#111" stroke-width="0.9"/>
<circle cx="606.00" cy="120.60" r="2.85" fill="#fff" stroke="#111" stroke-width="0.9"/>
<text x="620.6" y="124.6" font-size="9.75" text-anchor="start" >40 mM</text>
<path d="M593.9,133.08L617.9,133.08" stroke="#111" stroke-width="0.9"/>
<path d="M606.00,129.98L609.10,133.08L606.00,136.18L602.90,133.08Z" fill="#fff" stroke="#111" stroke-width="0.9"/>
<text x="620.6" y="137.08" font-size="9.75" text-anchor="start" >50 mM</text>
<path d="M593.9,145.56L617.9,145.56" stroke="#111" stroke-width="0.9"/>
<path d="M603.20,142.76L608.80,148.36M608.80,142.76L603.20,148.36" fill="none" stroke="#111" stroke-width="1"/>
<text x="620.6" y="149.56" font-size="9.75" text-anchor="start" >60 mM</text>
<path d="M593.9,158.04L617.9,158.04" stroke="#111" stroke-width="0.9" stroke-dasharray="2.8,2"/>
<rect x="603.25" y="155.29" width="5.50" height="5.50" fill="#111" stroke="#111" stroke-width="0.9"/>
<text x="620.6" y="162.04" font-size="9.75" text-anchor="start" >70 mM</text>
<path d="M593.9,170.52L617.9,170.52" stroke="#111" stroke-width="0.9" stroke-dasharray="2.8,2"/>
<path d="M606.00,167.92L609.00,173.12L603.00,173.12Z" fill="#111" stroke="#111" stroke-width="0.9"/>
<text x="620.6" y="174.52" font-size="9.75" text-anchor="start" >80 mM</text>
<path d="M593.9,183.00L617.9,183.00" stroke="#111" stroke-width="0.9" stroke-dasharray="2.8,2"/>
<circle cx="606.00" cy="183.00" r="2.85" fill="#111" stroke="#111" stroke-width="0.9"/>
<text x="620.6" y="187.0" font-size="9.75" text-anchor="start" >90 mM</text>
<path d="M593.9,195.48L617.9,195.48" stroke="#111" stroke-width="0.9" stroke-dasharray="2.8,2"/>
<path d="M606.00,192.38L609.10,195.48L606.00,198.58L602.90,195.48Z" fill="#111" stroke="#111" stroke-width="0.9"/>
<text x="620.6" y="199.48" font-size="9.75" text-anchor="start" >100 mM</text>
<path d="M593.9,207.96L617.9,207.96" stroke="#111" stroke-width="0.9" stroke-dasharray="2.8,2"/>
<path d="M603.20,205.16L608.80,210.76M608.80,205.16L603.20,210.76" fill="none" stroke="#111" stroke-width="1"/>
<text x="620.6" y="211.96" font-size="9.75" text-anchor="start" >150 mM</text>
</svg></div></body></html>
